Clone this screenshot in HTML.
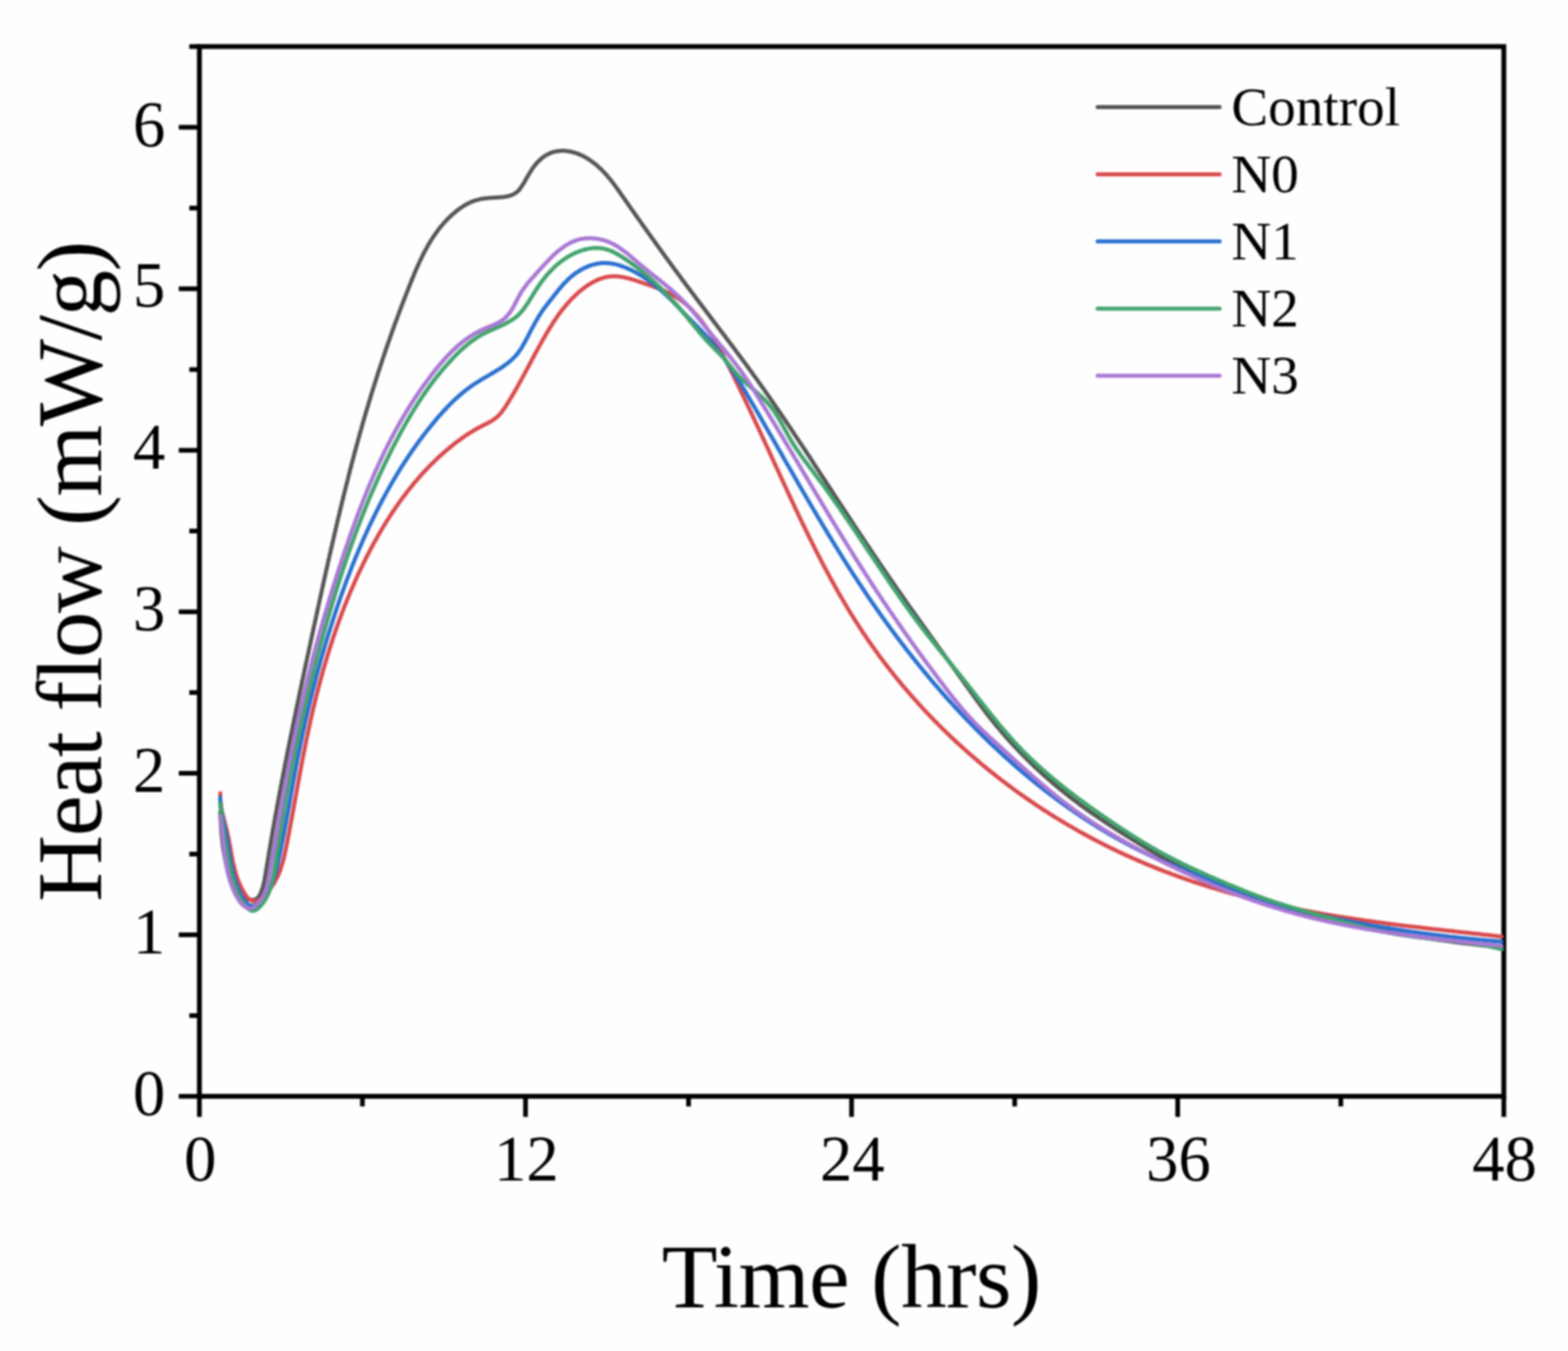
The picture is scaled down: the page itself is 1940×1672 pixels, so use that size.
<!DOCTYPE html>
<html><head><meta charset="utf-8"><title>Heat flow vs time</title>
<style>
html,body{margin:0;padding:0;background:#fefefe;}
svg{display:block;filter:blur(1.0px);}
text{font-family:"Liberation Serif","Times New Roman",serif;fill:#000;}
</style></head>
<body>
<svg width="1940" height="1672" viewBox="0 0 1940 1672" xmlns="http://www.w3.org/2000/svg">
<g>
<rect x="246.7" y="57.6" width="1613.8999999999999" height="1299.2" fill="none" stroke="#000" stroke-width="6.0"/>
<line x1="221.2" y1="1356.8" x2="246.7" y2="1356.8" stroke="#000" stroke-width="5.8"/>
<line x1="234.2" y1="1256.9" x2="246.7" y2="1256.9" stroke="#000" stroke-width="5.8"/>
<line x1="221.2" y1="1156.9" x2="246.7" y2="1156.9" stroke="#000" stroke-width="5.8"/>
<line x1="234.2" y1="1057.0" x2="246.7" y2="1057.0" stroke="#000" stroke-width="5.8"/>
<line x1="221.2" y1="957.0" x2="246.7" y2="957.0" stroke="#000" stroke-width="5.8"/>
<line x1="234.2" y1="857.1" x2="246.7" y2="857.1" stroke="#000" stroke-width="5.8"/>
<line x1="221.2" y1="757.2" x2="246.7" y2="757.2" stroke="#000" stroke-width="5.8"/>
<line x1="234.2" y1="657.2" x2="246.7" y2="657.2" stroke="#000" stroke-width="5.8"/>
<line x1="221.2" y1="557.3" x2="246.7" y2="557.3" stroke="#000" stroke-width="5.8"/>
<line x1="234.2" y1="457.4" x2="246.7" y2="457.4" stroke="#000" stroke-width="5.8"/>
<line x1="221.2" y1="357.4" x2="246.7" y2="357.4" stroke="#000" stroke-width="5.8"/>
<line x1="234.2" y1="257.5" x2="246.7" y2="257.5" stroke="#000" stroke-width="5.8"/>
<line x1="221.2" y1="157.5" x2="246.7" y2="157.5" stroke="#000" stroke-width="5.8"/>
<line x1="234.2" y1="57.6" x2="246.7" y2="57.6" stroke="#000" stroke-width="5.8"/>
<line x1="246.7" y1="1356.8" x2="246.7" y2="1382.3" stroke="#000" stroke-width="5.8"/>
<line x1="448.4" y1="1356.8" x2="448.4" y2="1369.3" stroke="#000" stroke-width="5.8"/>
<line x1="650.2" y1="1356.8" x2="650.2" y2="1382.3" stroke="#000" stroke-width="5.8"/>
<line x1="851.9" y1="1356.8" x2="851.9" y2="1369.3" stroke="#000" stroke-width="5.8"/>
<line x1="1053.6" y1="1356.8" x2="1053.6" y2="1382.3" stroke="#000" stroke-width="5.8"/>
<line x1="1255.4" y1="1356.8" x2="1255.4" y2="1369.3" stroke="#000" stroke-width="5.8"/>
<line x1="1457.1" y1="1356.8" x2="1457.1" y2="1382.3" stroke="#000" stroke-width="5.8"/>
<line x1="1658.9" y1="1356.8" x2="1658.9" y2="1369.3" stroke="#000" stroke-width="5.8"/>
<line x1="1860.6" y1="1356.8" x2="1860.6" y2="1382.3" stroke="#000" stroke-width="5.8"/>
<text x="204.5" y="1379.8" text-anchor="end" font-size="80">0</text>
<text x="204.5" y="1179.9" text-anchor="end" font-size="80">1</text>
<text x="204.5" y="980.0" text-anchor="end" font-size="80">2</text>
<text x="204.5" y="780.2" text-anchor="end" font-size="80">3</text>
<text x="204.5" y="580.3" text-anchor="end" font-size="80">4</text>
<text x="204.5" y="380.4" text-anchor="end" font-size="80">5</text>
<text x="204.5" y="180.5" text-anchor="end" font-size="80">6</text>
<text x="247.7" y="1461" text-anchor="middle" font-size="80">0</text>
<text x="651.2" y="1461" text-anchor="middle" font-size="80">12</text>
<text x="1054.6" y="1461" text-anchor="middle" font-size="80">24</text>
<text x="1458.1" y="1461" text-anchor="middle" font-size="80">36</text>
<text x="1861.6" y="1461" text-anchor="middle" font-size="80">48</text>
<text x="818.8" y="1617.8" font-size="113" textLength="469.5" lengthAdjust="spacing">Time (hrs)</text>
<text transform="translate(125.4 1115.9) rotate(-90)" font-size="114.5" textLength="818" lengthAdjust="spacing">Heat flow (mW/g)</text>
<path d="M272.5 1004.9L272.6 1007.0L272.7 1009.1L272.8 1011.2L272.9 1013.3L273.0 1015.4L273.2 1017.4L273.3 1019.4L273.4 1021.5L273.5 1023.5L273.7 1025.4L273.8 1027.4L274.0 1029.4L274.1 1031.3L274.3 1033.3L274.5 1035.2L274.7 1037.2L274.9 1039.1L275.1 1041.0L275.3 1042.9L275.5 1044.8L275.8 1046.8L276.0 1048.7L276.3 1050.6L276.6 1052.5L276.9 1054.4L277.2 1056.3L277.6 1058.3L277.9 1060.2L278.3 1062.1L278.7 1064.1L279.1 1066.0L279.5 1068.0L280.0 1070.0L280.5 1071.9L281.0 1073.9L281.5 1075.9L282.1 1078.0L282.6 1080.0L283.2 1082.0L283.9 1084.1L284.5 1086.1L285.3 1088.1L286.0 1090.1L286.8 1092.1L287.7 1094.0L288.6 1095.9L289.5 1097.7L290.5 1099.5L291.6 1101.2L292.8 1102.8L294.0 1104.4L295.3 1105.9L296.7 1107.2L298.1 1108.5L299.6 1109.6L301.3 1110.7L303.0 1111.6L304.8 1112.4L306.7 1113.0L308.7 1113.4L310.7 1113.7L312.6 1113.7L314.5 1113.4L316.3 1112.9L318.0 1111.9L319.4 1110.6L320.7 1109.0L321.7 1107.1L322.7 1105.0L323.5 1102.9L324.2 1100.9L324.9 1098.9L325.5 1096.9L326.0 1094.9L326.4 1092.9L326.9 1091.0L327.2 1089.0L327.6 1087.1L327.9 1085.1L328.3 1083.2L328.6 1081.2L328.9 1079.3L329.2 1077.3L329.6 1075.4L329.9 1073.4L330.2 1071.5L330.5 1069.5L330.9 1067.5L331.2 1065.6L331.5 1063.6L331.8 1061.6L332.2 1059.7L332.5 1057.7L332.8 1055.7L333.1 1053.7L333.5 1051.8L333.8 1049.8L334.1 1047.8L334.5 1045.8L334.8 1043.9L335.2 1041.9L335.5 1039.9L335.8 1037.9L336.2 1036.0L336.5 1034.0L336.9 1032.0L337.2 1030.0L337.5 1028.1L337.9 1026.1L338.2 1024.1L338.6 1022.2L338.9 1020.2L339.3 1018.2L339.6 1016.2L340.0 1014.3L340.3 1012.3L340.7 1010.3L341.0 1008.4L341.4 1006.4L341.8 1004.4L342.1 1002.5L342.5 1000.5L342.8 998.5L343.2 996.5L343.6 994.6L343.9 992.6L344.3 990.6L344.7 988.7L345.0 986.7L345.4 984.7L345.8 982.8L346.1 980.8L346.5 978.8L346.9 976.9L347.2 974.9L347.6 972.9L348.0 971.0L348.4 969.0L348.7 967.0L349.1 965.1L349.5 963.1L349.9 961.2L350.2 959.2L350.6 957.2L351.0 955.3L351.4 953.3L351.8 951.3L352.2 949.4L352.5 947.4L352.9 945.4L353.3 943.5L353.7 941.5L354.1 939.6L354.5 937.6L354.9 935.6L355.2 933.7L355.6 931.7L356.0 929.7L356.4 927.8L356.8 925.8L357.2 923.9L357.6 921.9L358.0 919.9L358.4 918.0L358.8 916.0L359.2 914.1L359.6 912.1L360.0 910.1L360.4 908.2L360.8 906.2L361.2 904.3L361.6 902.3L362.0 900.3L362.4 898.4L362.8 896.4L363.2 894.5L363.6 892.5L364.0 890.5L364.4 888.6L364.8 886.6L365.2 884.7L365.6 882.7L366.0 880.8L366.4 878.8L366.8 876.8L367.2 874.9L367.6 872.9L368.1 871.0L368.5 869.0L368.9 867.0L369.3 865.1L369.7 863.1L370.1 861.2L370.5 859.2L370.9 857.3L371.3 855.3L371.8 853.3L372.2 851.4L372.6 849.4L373.0 847.5L373.4 845.5L373.8 843.6L374.2 841.6L374.7 839.6L375.1 837.7L375.5 835.7L375.9 833.8L376.3 831.8L376.7 829.9L377.2 827.9L377.6 826.0L378.0 824.0L378.4 822.0L378.8 820.1L379.3 818.1L379.7 816.2L380.1 814.2L380.5 812.3L380.9 810.3L381.4 808.3L381.8 806.4L382.2 804.4L382.6 802.5L383.0 800.5L383.5 798.6L383.9 796.6L384.3 794.6L384.7 792.7L385.2 790.7L385.6 788.8L386.0 786.8L386.4 784.9L386.8 782.9L387.3 781.0L387.7 779.0L388.1 777.0L388.5 775.1L389.0 773.1L389.4 771.2L389.8 769.2L390.2 767.3L390.7 765.3L391.1 763.3L391.5 761.4L391.9 759.4L392.4 757.5L392.8 755.5L393.2 753.6L393.6 751.6L394.1 749.6L394.5 747.7L394.9 745.7L395.3 743.8L395.8 741.8L396.2 739.9L396.6 737.9L397.0 735.9L397.5 734.0L397.9 732.0L398.3 730.1L398.8 728.1L399.2 726.2L399.6 724.2L400.0 722.2L400.5 720.3L400.9 718.3L401.3 716.4L401.8 714.4L402.2 712.5L402.6 710.5L403.1 708.6L403.5 706.6L403.9 704.6L404.4 702.7L404.8 700.7L405.3 698.8L405.7 696.8L406.1 694.9L406.6 692.9L407.0 691.0L407.5 689.0L407.9 687.1L408.3 685.1L408.8 683.1L409.2 681.2L409.7 679.2L410.1 677.3L410.6 675.3L411.0 673.4L411.5 671.4L411.9 669.5L412.4 667.5L412.8 665.6L413.3 663.6L413.7 661.7L414.2 659.7L414.6 657.8L415.1 655.8L415.5 653.9L416.0 651.9L416.4 650.0L416.9 648.0L417.3 646.1L417.8 644.1L418.3 642.2L418.7 640.2L419.2 638.3L419.7 636.3L420.1 634.4L420.6 632.4L421.1 630.5L421.5 628.5L422.0 626.6L422.5 624.7L422.9 622.7L423.4 620.8L423.9 618.8L424.4 616.9L424.8 614.9L425.3 613.0L425.8 611.0L426.3 609.1L426.8 607.2L427.2 605.2L427.7 603.3L428.2 601.3L428.7 599.4L429.2 597.5L429.7 595.5L430.2 593.6L430.7 591.6L431.1 589.7L431.6 587.8L432.1 585.8L432.6 583.9L433.1 581.9L433.6 580.0L434.1 578.1L434.6 576.1L435.1 574.2L435.6 572.3L436.2 570.3L436.7 568.4L437.2 566.5L437.7 564.5L438.2 562.6L438.7 560.7L439.2 558.7L439.8 556.8L440.3 554.9L440.8 552.9L441.3 551.0L441.8 549.1L442.4 547.1L442.9 545.2L443.4 543.3L444.0 541.4L444.5 539.4L445.0 537.5L445.6 535.6L446.1 533.7L446.7 531.7L447.2 529.8L447.7 527.9L448.3 526.0L448.8 524.0L449.4 522.1L449.9 520.2L450.5 518.3L451.0 516.4L451.6 514.4L452.2 512.5L452.7 510.6L453.3 508.7L453.9 506.8L454.4 504.9L455.0 502.9L455.6 501.0L456.1 499.1L456.7 497.2L457.3 495.3L457.9 493.4L458.4 491.5L459.0 489.5L459.6 487.6L460.2 485.7L460.8 483.8L461.4 481.9L462.0 480.0L462.6 478.1L463.2 476.2L463.8 474.3L464.4 472.4L465.0 470.5L465.6 468.6L466.2 466.7L466.8 464.8L467.4 462.9L468.0 461.0L468.6 459.1L469.3 457.2L469.9 455.3L470.5 453.4L471.1 451.5L471.8 449.6L472.4 447.7L473.0 445.8L473.6 443.9L474.3 442.0L474.9 440.1L475.6 438.2L476.2 436.3L476.8 434.4L477.5 432.5L478.1 430.6L478.8 428.7L479.4 426.8L480.1 424.9L480.8 423.0L481.4 421.2L482.1 419.3L482.7 417.4L483.4 415.5L484.1 413.6L484.7 411.7L485.4 409.8L486.1 407.9L486.8 406.1L487.5 404.2L488.1 402.3L488.8 400.4L489.5 398.5L490.2 396.6L490.9 394.8L491.6 392.9L492.3 391.0L493.0 389.1L493.7 387.2L494.4 385.4L495.1 383.5L495.8 381.6L496.5 379.7L497.2 377.9L497.9 376.0L498.6 374.1L499.4 372.2L500.1 370.4L500.8 368.5L501.5 366.6L502.3 364.7L503.0 362.9L503.7 361.0L504.5 359.1L505.2 357.3L505.9 355.4L506.7 353.5L507.4 351.7L508.2 349.8L508.9 347.9L509.7 346.1L510.4 344.2L511.2 342.3L512.0 340.5L512.7 338.6L513.5 336.8L514.3 334.9L515.1 333.1L515.9 331.2L516.7 329.4L517.5 327.6L518.4 325.8L519.2 323.9L520.0 322.1L520.9 320.3L521.8 318.5L522.6 316.7L523.5 315.0L524.4 313.2L525.4 311.4L526.3 309.7L527.2 307.9L528.2 306.2L529.2 304.4L530.2 302.7L531.2 301.0L532.2 299.3L533.2 297.6L534.3 296.0L535.3 294.3L536.4 292.6L537.6 291.0L538.7 289.4L539.8 287.8L541.0 286.2L542.2 284.6L543.4 283.0L544.6 281.5L545.9 279.9L547.2 278.4L548.5 276.9L549.8 275.4L551.1 273.9L552.5 272.5L553.9 271.0L555.3 269.6L556.8 268.2L558.2 266.8L559.7 265.4L561.3 264.1L562.8 262.8L564.4 261.5L566.0 260.2L567.6 259.0L569.3 257.8L570.9 256.7L572.6 255.6L574.3 254.5L576.1 253.5L577.8 252.5L579.6 251.6L581.4 250.7L583.3 249.9L585.1 249.1L587.0 248.4L588.9 247.8L590.8 247.3L592.7 246.8L594.6 246.3L596.6 246.0L598.6 245.7L600.5 245.4L602.5 245.2L604.5 245.1L606.6 244.9L608.6 244.8L610.6 244.7L612.6 244.6L614.6 244.5L616.6 244.3L618.7 244.2L620.7 244.0L622.6 243.8L624.6 243.5L626.6 243.2L628.5 242.8L630.4 242.3L632.3 241.7L634.1 241.0L635.8 240.2L637.5 239.2L639.0 238.1L640.5 236.8L641.9 235.4L643.2 233.8L644.4 232.1L645.6 230.4L646.7 228.7L647.8 227.0L648.8 225.2L649.8 223.5L650.8 221.8L651.8 220.0L652.8 218.3L653.8 216.6L654.8 214.9L655.9 213.2L656.9 211.5L658.0 209.8L659.1 208.2L660.3 206.5L661.6 204.9L662.8 203.3L664.2 201.8L665.6 200.3L667.0 198.9L668.5 197.5L670.0 196.2L671.5 194.9L673.1 193.7L674.8 192.6L676.5 191.6L678.2 190.7L680.0 189.8L681.8 189.1L683.7 188.4L685.6 187.9L687.5 187.5L689.4 187.1L691.4 186.9L693.4 186.7L695.4 186.6L697.4 186.6L699.4 186.7L701.4 186.9L703.4 187.2L705.4 187.5L707.3 188.0L709.3 188.5L711.2 189.0L713.2 189.7L715.1 190.4L717.0 191.1L718.8 192.0L720.7 192.8L722.5 193.8L724.3 194.7L726.0 195.7L727.7 196.8L729.4 197.9L731.1 199.0L732.7 200.2L734.3 201.4L735.9 202.6L737.4 203.8L738.9 205.1L740.4 206.4L741.8 207.8L743.3 209.1L744.7 210.5L746.1 211.9L747.4 213.3L748.8 214.8L750.1 216.3L751.4 217.7L752.7 219.3L754.0 220.8L755.2 222.3L756.5 223.9L757.7 225.5L758.9 227.0L760.1 228.6L761.3 230.2L762.5 231.9L763.7 233.5L764.8 235.1L766.0 236.7L767.1 238.4L768.3 240.0L769.4 241.7L770.6 243.3L771.7 245.0L772.9 246.6L774.0 248.3L775.2 249.9L776.3 251.6L777.5 253.2L778.6 254.9L779.8 256.5L780.9 258.2L782.1 259.8L783.2 261.5L784.4 263.1L785.5 264.8L786.7 266.4L787.8 268.0L789.0 269.7L790.2 271.3L791.3 272.9L792.5 274.6L793.6 276.2L794.8 277.9L795.9 279.5L797.1 281.1L798.3 282.8L799.4 284.4L800.6 286.0L801.7 287.7L802.9 289.3L804.1 290.9L805.2 292.5L806.4 294.2L807.6 295.8L808.7 297.4L809.9 299.0L811.1 300.7L812.2 302.3L813.4 303.9L814.6 305.5L815.7 307.2L816.9 308.8L818.1 310.4L819.2 312.0L820.4 313.6L821.6 315.3L822.8 316.9L823.9 318.5L825.1 320.1L826.3 321.7L827.5 323.3L828.6 324.9L829.8 326.6L831.0 328.2L832.2 329.8L833.4 331.4L834.5 333.0L835.7 334.6L836.9 336.2L838.1 337.8L839.3 339.4L840.5 341.0L841.7 342.6L842.8 344.3L844.0 345.9L845.2 347.5L846.4 349.1L847.6 350.7L848.8 352.3L850.0 353.9L851.2 355.5L852.4 357.1L853.6 358.7L854.8 360.3L856.0 361.9L857.2 363.5L858.4 365.1L859.6 366.7L860.8 368.3L862.0 369.9L863.2 371.5L864.4 373.1L865.6 374.7L866.8 376.3L868.0 377.9L869.2 379.4L870.4 381.0L871.6 382.6L872.8 384.2L874.0 385.8L875.2 387.4L876.4 389.0L877.6 390.6L878.8 392.2L880.0 393.8L881.2 395.4L882.4 397.0L883.6 398.6L884.9 400.2L886.1 401.8L887.3 403.4L888.5 405.0L889.7 406.6L890.9 408.2L892.1 409.8L893.3 411.4L894.5 412.9L895.7 414.5L896.9 416.1L898.1 417.7L899.3 419.3L900.5 420.9L901.7 422.5L902.9 424.1L904.1 425.7L905.3 427.3L906.5 428.9L907.7 430.5L908.9 432.1L910.1 433.7L911.3 435.4L912.5 437.0L913.7 438.6L914.9 440.2L916.1 441.8L917.3 443.4L918.5 445.0L919.6 446.6L920.8 448.2L922.0 449.8L923.2 451.4L924.4 453.0L925.6 454.7L926.7 456.3L927.9 457.9L929.1 459.5L930.3 461.1L931.4 462.8L932.6 464.4L933.8 466.0L935.0 467.6L936.1 469.2L937.3 470.9L938.4 472.5L939.6 474.1L940.8 475.8L941.9 477.4L943.1 479.0L944.2 480.7L945.4 482.3L946.5 483.9L947.7 485.6L948.8 487.2L950.0 488.8L951.1 490.5L952.3 492.1L953.4 493.8L954.5 495.4L955.7 497.1L956.8 498.7L958.0 500.4L959.1 502.0L960.2 503.7L961.3 505.3L962.5 507.0L963.6 508.6L964.7 510.3L965.9 511.9L967.0 513.6L968.1 515.2L969.2 516.9L970.3 518.5L971.5 520.2L972.6 521.9L973.7 523.5L974.8 525.2L975.9 526.8L977.1 528.5L978.2 530.2L979.3 531.8L980.4 533.5L981.5 535.2L982.6 536.8L983.7 538.5L984.8 540.2L985.9 541.8L987.0 543.5L988.1 545.2L989.2 546.8L990.4 548.5L991.5 550.2L992.6 551.8L993.7 553.5L994.8 555.2L995.9 556.9L997.0 558.5L998.1 560.2L999.2 561.9L1000.3 563.5L1001.4 565.2L1002.5 566.9L1003.6 568.6L1004.7 570.2L1005.8 571.9L1006.8 573.6L1007.9 575.3L1009.0 576.9L1010.1 578.6L1011.2 580.3L1012.3 582.0L1013.4 583.6L1014.5 585.3L1015.6 587.0L1016.7 588.7L1017.8 590.3L1018.9 592.0L1020.0 593.7L1021.1 595.4L1022.2 597.1L1023.3 598.7L1024.4 600.4L1025.5 602.1L1026.6 603.8L1027.7 605.4L1028.8 607.1L1029.9 608.8L1030.9 610.5L1032.0 612.1L1033.1 613.8L1034.2 615.5L1035.3 617.2L1036.4 618.8L1037.5 620.5L1038.6 622.2L1039.7 623.9L1040.8 625.5L1041.9 627.2L1043.0 628.9L1044.1 630.6L1045.2 632.2L1046.3 633.9L1047.4 635.6L1048.5 637.2L1049.6 638.9L1050.7 640.6L1051.8 642.3L1052.9 643.9L1054.0 645.6L1055.1 647.3L1056.2 649.0L1057.3 650.6L1058.4 652.3L1059.5 654.0L1060.6 655.6L1061.7 657.3L1062.8 659.0L1063.9 660.6L1065.0 662.3L1066.2 664.0L1067.3 665.6L1068.4 667.3L1069.5 669.0L1070.6 670.6L1071.7 672.3L1072.8 674.0L1073.9 675.6L1075.0 677.3L1076.1 679.0L1077.3 680.6L1078.4 682.3L1079.5 684.0L1080.6 685.6L1081.7 687.3L1082.8 688.9L1083.9 690.6L1085.1 692.3L1086.2 693.9L1087.3 695.6L1088.4 697.2L1089.5 698.9L1090.7 700.5L1091.8 702.2L1092.9 703.9L1094.0 705.5L1095.2 707.2L1096.3 708.8L1097.4 710.5L1098.6 712.1L1099.7 713.8L1100.8 715.4L1101.9 717.1L1103.1 718.7L1104.2 720.4L1105.3 722.0L1106.5 723.7L1107.6 725.3L1108.8 727.0L1109.9 728.6L1111.0 730.3L1112.2 731.9L1113.3 733.5L1114.5 735.2L1115.6 736.8L1116.8 738.5L1117.9 740.1L1119.0 741.7L1120.2 743.4L1121.3 745.0L1122.5 746.7L1123.6 748.3L1124.8 749.9L1126.0 751.6L1127.1 753.2L1128.3 754.8L1129.4 756.5L1130.6 758.1L1131.7 759.7L1132.9 761.4L1134.1 763.0L1135.2 764.6L1136.4 766.3L1137.5 767.9L1138.7 769.5L1139.9 771.1L1141.0 772.8L1142.2 774.4L1143.4 776.0L1144.5 777.6L1145.7 779.3L1146.9 780.9L1148.0 782.5L1149.2 784.2L1150.4 785.8L1151.5 787.4L1152.7 789.0L1153.9 790.7L1155.0 792.3L1156.2 793.9L1157.4 795.5L1158.5 797.1L1159.7 798.8L1160.9 800.4L1162.0 802.0L1163.2 803.6L1164.4 805.3L1165.6 806.9L1166.7 808.5L1167.9 810.1L1169.1 811.8L1170.2 813.4L1171.4 815.0L1172.6 816.6L1173.8 818.2L1174.9 819.9L1176.1 821.5L1177.3 823.1L1178.4 824.7L1179.6 826.4L1180.8 828.0L1181.9 829.6L1183.1 831.2L1184.3 832.9L1185.4 834.5L1186.6 836.1L1187.8 837.7L1189.0 839.4L1190.1 841.0L1191.3 842.6L1192.5 844.2L1193.6 845.9L1194.8 847.5L1196.0 849.1L1197.1 850.7L1198.3 852.4L1199.5 854.0L1200.6 855.6L1201.8 857.2L1203.0 858.9L1204.1 860.5L1205.3 862.1L1206.5 863.7L1207.7 865.3L1208.8 867.0L1210.0 868.6L1211.2 870.2L1212.4 871.8L1213.6 873.4L1214.8 875.0L1216.0 876.6L1217.2 878.2L1218.4 879.8L1219.6 881.4L1220.8 883.0L1222.0 884.6L1223.3 886.1L1224.5 887.7L1225.7 889.3L1227.0 890.9L1228.2 892.4L1229.5 894.0L1230.7 895.5L1232.0 897.1L1233.2 898.6L1234.5 900.2L1235.8 901.7L1237.1 903.2L1238.4 904.8L1239.7 906.3L1241.0 907.8L1242.3 909.3L1243.6 910.8L1244.9 912.3L1246.2 913.8L1247.6 915.3L1248.9 916.8L1250.2 918.3L1251.6 919.8L1252.9 921.3L1254.3 922.7L1255.7 924.2L1257.0 925.7L1258.4 927.1L1259.8 928.6L1261.2 930.0L1262.6 931.5L1263.9 932.9L1265.3 934.3L1266.8 935.8L1268.2 937.2L1269.6 938.6L1271.0 940.0L1272.4 941.4L1273.9 942.8L1275.3 944.2L1276.7 945.6L1278.2 947.0L1279.6 948.4L1281.1 949.8L1282.5 951.1L1284.0 952.5L1285.5 953.9L1287.0 955.2L1288.4 956.6L1289.9 957.9L1291.4 959.3L1292.9 960.6L1294.4 961.9L1295.9 963.2L1297.4 964.6L1298.9 965.9L1300.4 967.2L1301.9 968.5L1303.5 969.8L1305.0 971.1L1306.5 972.4L1308.1 973.7L1309.6 974.9L1311.2 976.2L1312.7 977.5L1314.3 978.8L1315.8 980.0L1317.4 981.3L1318.9 982.5L1320.5 983.8L1322.1 985.0L1323.7 986.2L1325.2 987.5L1326.8 988.7L1328.4 989.9L1330.0 991.1L1331.6 992.3L1333.2 993.5L1334.8 994.7L1336.4 995.9L1338.0 997.1L1339.6 998.2L1341.3 999.4L1342.9 1000.6L1344.5 1001.8L1346.1 1002.9L1347.8 1004.1L1349.4 1005.2L1351.0 1006.4L1352.7 1007.5L1354.3 1008.6L1356.0 1009.8L1357.6 1010.9L1359.3 1012.0L1360.9 1013.1L1362.6 1014.2L1364.3 1015.4L1365.9 1016.5L1367.6 1017.6L1369.2 1018.7L1370.9 1019.8L1372.6 1020.9L1374.3 1021.9L1375.9 1023.0L1377.6 1024.1L1379.3 1025.2L1381.0 1026.3L1382.7 1027.4L1384.4 1028.4L1386.0 1029.5L1387.7 1030.6L1389.4 1031.6L1391.1 1032.7L1392.8 1033.8L1394.5 1034.8L1396.2 1035.9L1397.9 1036.9L1399.6 1038.0L1401.3 1039.1L1403.0 1040.1L1404.7 1041.2L1406.4 1042.2L1408.1 1043.3L1409.8 1044.3L1411.5 1045.4L1413.2 1046.4L1414.9 1047.4L1416.6 1048.5L1418.3 1049.5L1420.1 1050.5L1421.8 1051.6L1423.5 1052.6L1425.2 1053.6L1426.9 1054.6L1428.7 1055.7L1430.4 1056.7L1432.1 1057.7L1433.8 1058.7L1435.6 1059.7L1437.3 1060.6L1439.1 1061.6L1440.8 1062.6L1442.6 1063.6L1444.3 1064.5L1446.1 1065.5L1447.8 1066.4L1449.6 1067.4L1451.3 1068.3L1453.1 1069.3L1454.9 1070.2L1456.7 1071.1L1458.4 1072.0L1460.2 1072.9L1462.0 1073.8L1463.8 1074.7L1465.6 1075.6L1467.4 1076.5L1469.2 1077.4L1471.0 1078.3L1472.8 1079.1L1474.6 1080.0L1476.4 1080.8L1478.2 1081.7L1480.0 1082.5L1481.8 1083.4L1483.6 1084.2L1485.5 1085.0L1487.3 1085.9L1489.1 1086.7L1490.9 1087.5L1492.8 1088.3L1494.6 1089.1L1496.5 1089.9L1498.3 1090.7L1500.1 1091.5L1502.0 1092.2L1503.8 1093.0L1505.7 1093.8L1507.5 1094.6L1509.4 1095.3L1511.2 1096.1L1513.1 1096.8L1514.9 1097.6L1516.8 1098.3L1518.7 1099.0L1520.5 1099.8L1522.4 1100.5L1524.3 1101.2L1526.1 1101.9L1528.0 1102.6L1529.9 1103.3L1531.8 1104.0L1533.6 1104.7L1535.5 1105.4L1537.4 1106.1L1539.3 1106.8L1541.2 1107.5L1543.1 1108.1L1544.9 1108.8L1546.8 1109.5L1548.7 1110.1L1550.6 1110.8L1552.5 1111.5L1554.4 1112.1L1556.3 1112.7L1558.2 1113.4L1560.1 1114.0L1562.0 1114.6L1563.9 1115.3L1565.8 1115.9L1567.7 1116.5L1569.6 1117.1L1571.5 1117.7L1573.4 1118.3L1575.3 1118.9L1577.2 1119.5L1579.2 1120.1L1581.1 1120.7L1583.0 1121.3L1584.9 1121.9L1586.8 1122.5L1588.7 1123.1L1590.6 1123.6L1592.6 1124.2L1594.5 1124.8L1596.4 1125.3L1598.3 1125.9L1600.2 1126.4L1602.2 1127.0L1604.1 1127.5L1606.0 1128.1L1608.0 1128.6L1609.9 1129.1L1611.8 1129.7L1613.7 1130.2L1615.7 1130.7L1617.6 1131.2L1619.5 1131.7L1621.5 1132.3L1623.4 1132.8L1625.3 1133.3L1627.3 1133.8L1629.2 1134.3L1631.1 1134.8L1633.1 1135.2L1635.0 1135.7L1637.0 1136.2L1638.9 1136.7L1640.9 1137.2L1642.8 1137.6L1644.7 1138.1L1646.7 1138.6L1648.6 1139.0L1650.6 1139.5L1652.5 1140.0L1654.5 1140.4L1656.4 1140.9L1658.4 1141.3L1660.3 1141.8L1662.3 1142.2L1664.2 1142.6L1666.2 1143.1L1668.1 1143.5L1670.1 1143.9L1672.1 1144.3L1674.0 1144.8L1676.0 1145.2L1677.9 1145.6L1679.9 1146.0L1681.8 1146.4L1683.8 1146.8L1685.8 1147.2L1687.7 1147.6L1689.7 1148.0L1691.6 1148.4L1693.6 1148.8L1695.6 1149.2L1697.5 1149.6L1699.5 1150.0L1701.5 1150.3L1703.4 1150.7L1705.4 1151.1L1707.4 1151.4L1709.3 1151.8L1711.3 1152.2L1713.3 1152.5L1715.2 1152.9L1717.2 1153.3L1719.2 1153.6L1721.2 1154.0L1723.1 1154.3L1725.1 1154.7L1727.1 1155.0L1729.0 1155.3L1731.0 1155.7L1733.0 1156.0L1735.0 1156.3L1736.9 1156.7L1738.9 1157.0L1740.9 1157.3L1742.9 1157.6L1744.9 1158.0L1746.8 1158.3L1748.8 1158.6L1750.8 1158.9L1752.8 1159.2L1754.7 1159.5L1756.7 1159.8L1758.7 1160.1L1760.7 1160.4L1762.7 1160.7L1764.6 1161.0L1766.6 1161.3L1768.6 1161.6L1770.6 1161.9L1772.6 1162.2L1774.6 1162.4L1776.5 1162.7L1778.5 1163.0L1780.5 1163.3L1782.5 1163.5L1784.5 1163.8L1786.5 1164.1L1788.4 1164.4L1790.4 1164.6L1792.4 1164.9L1794.4 1165.1L1796.4 1165.4L1798.4 1165.7L1800.4 1165.9L1802.3 1166.2L1804.3 1166.4L1806.3 1166.7L1808.3 1166.9L1810.3 1167.2L1812.3 1167.4L1814.3 1167.6L1816.2 1167.9L1818.2 1168.1L1820.2 1168.3L1822.2 1168.6L1824.2 1168.8L1826.2 1169.0L1828.2 1169.3L1830.2 1169.5L1832.1 1169.7L1834.1 1169.9L1836.1 1170.2L1838.1 1170.4L1840.1 1170.6L1842.1 1170.8L1844.1 1171.0L1846.1 1171.2L1848.1 1171.4L1850.0 1171.6L1852.0 1171.9L1854.0 1172.1L1856.0 1172.3L1858.0 1172.5" fill="none" stroke="#555555" stroke-width="5.0" stroke-linecap="round" stroke-linejoin="round"/>
<path d="M272.6 981.5L272.5 983.5L272.5 985.5L272.5 987.5L272.6 989.5L272.8 991.5L272.9 993.5L273.2 995.4L273.5 997.4L273.8 999.4L274.1 1001.4L274.5 1003.4L274.9 1005.3L275.4 1007.3L275.9 1009.3L276.3 1011.2L276.8 1013.2L277.3 1015.2L277.9 1017.1L278.4 1019.1L278.9 1021.1L279.4 1023.0L279.9 1025.0L280.4 1026.9L280.9 1028.9L281.3 1030.9L281.8 1032.8L282.2 1034.8L282.6 1036.7L283.0 1038.7L283.4 1040.6L283.7 1042.6L284.1 1044.6L284.5 1046.5L284.8 1048.5L285.2 1050.4L285.5 1052.3L285.8 1054.3L286.2 1056.2L286.5 1058.2L286.9 1060.1L287.3 1062.0L287.7 1064.0L288.0 1065.9L288.4 1067.8L288.9 1069.7L289.3 1071.7L289.8 1073.6L290.2 1075.5L290.8 1077.4L291.3 1079.3L291.8 1081.2L292.4 1083.1L293.0 1085.0L293.7 1086.9L294.4 1088.8L295.1 1090.7L295.9 1092.5L296.7 1094.4L297.5 1096.3L298.4 1098.1L299.4 1100.0L300.3 1101.8L301.4 1103.7L302.5 1105.5L303.6 1107.3L304.8 1109.1L306.1 1110.7L307.5 1112.1L309.0 1113.4L310.6 1114.3L312.3 1115.0L314.1 1115.3L316.1 1115.3L318.0 1114.9L320.0 1114.1L321.8 1113.1L323.4 1111.8L325.0 1110.3L326.4 1108.7L327.9 1107.1L329.3 1105.6L330.7 1104.0L332.0 1102.5L333.3 1100.9L334.6 1099.4L335.8 1097.8L337.0 1096.2L338.1 1094.5L339.1 1092.9L340.1 1091.2L341.1 1089.4L342.0 1087.7L342.9 1086.0L343.7 1084.2L344.5 1082.4L345.3 1080.6L346.0 1078.7L346.7 1076.9L347.3 1075.0L347.9 1073.1L348.5 1071.2L349.1 1069.3L349.7 1067.4L350.2 1065.5L350.7 1063.6L351.2 1061.6L351.6 1059.7L352.1 1057.7L352.5 1055.7L353.0 1053.8L353.4 1051.8L353.8 1049.8L354.2 1047.8L354.6 1045.9L355.0 1043.9L355.4 1041.9L355.7 1039.9L356.1 1038.0L356.5 1036.0L356.9 1034.0L357.3 1032.0L357.7 1030.0L358.0 1028.1L358.4 1026.1L358.8 1024.1L359.2 1022.1L359.5 1020.2L359.9 1018.2L360.3 1016.2L360.6 1014.2L361.0 1012.3L361.4 1010.3L361.7 1008.3L362.1 1006.3L362.4 1004.4L362.8 1002.4L363.2 1000.4L363.5 998.5L363.9 996.5L364.2 994.5L364.6 992.5L365.0 990.6L365.3 988.6L365.7 986.6L366.0 984.7L366.4 982.7L366.8 980.7L367.1 978.8L367.5 976.8L367.8 974.8L368.2 972.9L368.5 970.9L368.9 968.9L369.3 967.0L369.6 965.0L370.0 963.0L370.3 961.1L370.7 959.1L371.1 957.1L371.4 955.2L371.8 953.2L372.2 951.2L372.5 949.3L372.9 947.3L373.3 945.3L373.6 943.4L374.0 941.4L374.4 939.5L374.8 937.5L375.1 935.5L375.5 933.6L375.9 931.6L376.3 929.7L376.7 927.7L377.1 925.7L377.5 923.8L377.9 921.8L378.2 919.9L378.6 917.9L379.0 915.9L379.4 914.0L379.9 912.0L380.3 910.1L380.7 908.1L381.1 906.2L381.5 904.2L381.9 902.2L382.3 900.3L382.8 898.3L383.2 896.4L383.6 894.4L384.1 892.5L384.5 890.5L384.9 888.6L385.4 886.6L385.8 884.7L386.3 882.7L386.7 880.8L387.2 878.8L387.6 876.9L388.1 874.9L388.6 873.0L389.0 871.0L389.5 869.1L390.0 867.1L390.5 865.2L390.9 863.2L391.4 861.3L391.9 859.4L392.4 857.4L392.9 855.5L393.4 853.5L393.9 851.6L394.4 849.7L394.9 847.7L395.4 845.8L396.0 843.8L396.5 841.9L397.0 840.0L397.5 838.0L398.1 836.1L398.6 834.2L399.1 832.2L399.7 830.3L400.2 828.4L400.8 826.5L401.3 824.5L401.9 822.6L402.5 820.7L403.0 818.8L403.6 816.9L404.2 814.9L404.7 813.0L405.3 811.1L405.9 809.2L406.5 807.3L407.1 805.4L407.7 803.4L408.3 801.5L408.9 799.6L409.5 797.7L410.1 795.8L410.8 793.9L411.4 792.0L412.0 790.1L412.6 788.2L413.3 786.3L413.9 784.4L414.6 782.5L415.2 780.6L415.9 778.7L416.5 776.8L417.2 774.9L417.9 773.1L418.5 771.2L419.2 769.3L419.9 767.4L420.6 765.5L421.3 763.7L422.0 761.8L422.7 759.9L423.4 758.0L424.1 756.2L424.8 754.3L425.5 752.4L426.3 750.6L427.0 748.7L427.7 746.8L428.5 745.0L429.2 743.1L430.0 741.3L430.7 739.4L431.5 737.6L432.3 735.7L433.0 733.9L433.8 732.0L434.6 730.2L435.4 728.3L436.2 726.5L437.0 724.7L437.8 722.8L438.6 721.0L439.4 719.2L440.2 717.3L441.0 715.5L441.8 713.7L442.7 711.9L443.5 710.0L444.4 708.2L445.2 706.4L446.1 704.6L446.9 702.8L447.8 701.0L448.7 699.2L449.6 697.4L450.4 695.6L451.3 693.8L452.2 692.0L453.1 690.2L454.0 688.4L454.9 686.6L455.9 684.8L456.8 683.1L457.7 681.3L458.7 679.5L459.6 677.7L460.5 676.0L461.5 674.2L462.5 672.4L463.4 670.7L464.4 668.9L465.4 667.2L466.4 665.4L467.4 663.7L468.3 661.9L469.4 660.2L470.4 658.4L471.4 656.7L472.4 655.0L473.4 653.3L474.5 651.5L475.5 649.8L476.6 648.1L477.6 646.4L478.7 644.7L479.7 643.0L480.8 641.3L481.9 639.6L483.0 638.0L484.1 636.3L485.2 634.6L486.3 632.9L487.4 631.3L488.6 629.6L489.7 628.0L490.8 626.3L492.0 624.7L493.1 623.0L494.3 621.4L495.5 619.8L496.6 618.2L497.8 616.6L499.0 615.0L500.2 613.4L501.4 611.8L502.6 610.2L503.8 608.6L505.1 607.0L506.3 605.4L507.6 603.9L508.8 602.3L510.1 600.8L511.3 599.2L512.6 597.7L513.9 596.2L515.2 594.7L516.5 593.1L517.8 591.6L519.1 590.1L520.4 588.6L521.8 587.2L523.1 585.7L524.4 584.2L525.8 582.8L527.2 581.3L528.5 579.9L529.9 578.4L531.3 577.0L532.7 575.6L534.1 574.2L535.5 572.8L537.0 571.4L538.4 570.0L539.8 568.6L541.3 567.2L542.7 565.9L544.2 564.5L545.7 563.2L547.2 561.8L548.7 560.5L550.2 559.2L551.7 557.9L553.2 556.6L554.7 555.3L556.3 554.0L557.8 552.8L559.4 551.5L561.0 550.3L562.5 549.0L564.1 547.8L565.7 546.6L567.3 545.4L568.9 544.2L570.6 543.0L572.2 541.8L573.8 540.7L575.5 539.5L577.2 538.4L578.9 537.3L580.6 536.2L582.3 535.1L584.0 534.1L585.7 533.0L587.5 532.0L589.2 531.0L591.0 530.0L592.8 529.0L594.6 528.1L596.4 527.2L598.2 526.3L600.0 525.3L601.8 524.4L603.6 523.5L605.4 522.5L607.1 521.6L608.8 520.5L610.5 519.5L612.1 518.3L613.7 517.1L615.2 515.9L616.6 514.5L618.0 513.1L619.3 511.6L620.5 510.1L621.8 508.5L622.9 506.9L624.1 505.2L625.2 503.6L626.3 501.9L627.4 500.2L628.5 498.4L629.5 496.7L630.6 495.0L631.6 493.3L632.7 491.5L633.7 489.8L634.7 488.1L635.7 486.4L636.7 484.6L637.7 482.9L638.7 481.1L639.7 479.4L640.7 477.6L641.7 475.9L642.6 474.1L643.6 472.4L644.6 470.6L645.5 468.9L646.5 467.1L647.4 465.4L648.4 463.6L649.3 461.9L650.3 460.1L651.2 458.3L652.1 456.6L653.1 454.8L654.0 453.1L654.9 451.3L655.9 449.5L656.8 447.8L657.8 446.0L658.7 444.2L659.6 442.5L660.6 440.7L661.5 439.0L662.5 437.2L663.4 435.5L664.3 433.7L665.3 431.9L666.3 430.2L667.2 428.4L668.2 426.7L669.2 424.9L670.1 423.2L671.1 421.4L672.1 419.7L673.1 418.0L674.1 416.2L675.1 414.5L676.1 412.8L677.1 411.0L678.2 409.3L679.2 407.6L680.2 405.9L681.3 404.2L682.4 402.5L683.5 400.8L684.5 399.1L685.6 397.4L686.8 395.7L687.9 394.1L689.0 392.4L690.2 390.8L691.3 389.1L692.5 387.5L693.7 385.9L694.9 384.3L696.2 382.7L697.4 381.2L698.7 379.6L700.0 378.1L701.3 376.6L702.6 375.1L703.9 373.6L705.3 372.1L706.6 370.6L708.0 369.2L709.5 367.8L710.9 366.4L712.3 365.0L713.8 363.6L715.3 362.3L716.9 360.9L718.4 359.6L720.0 358.4L721.6 357.1L723.2 355.9L724.8 354.7L726.5 353.6L728.2 352.4L729.9 351.4L731.6 350.3L733.4 349.4L735.1 348.4L736.9 347.5L738.7 346.7L740.5 345.9L742.3 345.2L744.2 344.6L746.0 344.0L747.9 343.4L749.8 343.0L751.6 342.6L753.6 342.3L755.5 342.1L757.4 342.0L759.3 341.9L761.3 341.9L763.2 342.0L765.2 342.2L767.2 342.4L769.1 342.7L771.1 343.1L773.1 343.5L775.1 343.9L777.1 344.4L779.0 344.9L781.0 345.5L783.0 346.1L785.0 346.7L787.0 347.3L789.0 348.0L790.9 348.7L792.9 349.3L794.9 350.0L796.9 350.7L798.8 351.3L800.8 352.0L802.7 352.7L804.6 353.3L806.6 354.0L808.5 354.7L810.4 355.4L812.3 356.1L814.1 356.8L816.0 357.6L817.9 358.3L819.7 359.1L821.5 359.9L823.3 360.7L825.1 361.5L826.9 362.4L828.7 363.2L830.4 364.1L832.1 365.1L833.8 366.0L835.5 367.0L837.2 368.1L838.8 369.1L840.4 370.2L842.0 371.3L843.6 372.5L845.2 373.7L846.7 374.9L848.2 376.2L849.7 377.5L851.2 378.8L852.6 380.2L854.1 381.6L855.5 383.0L856.9 384.4L858.2 385.9L859.6 387.3L860.9 388.8L862.3 390.4L863.6 391.9L864.8 393.4L866.1 395.0L867.4 396.6L868.6 398.2L869.8 399.8L871.0 401.4L872.2 403.1L873.4 404.7L874.5 406.4L875.7 408.0L876.8 409.7L877.9 411.4L879.0 413.0L880.1 414.7L881.2 416.4L882.3 418.1L883.3 419.8L884.4 421.6L885.4 423.3L886.4 425.0L887.4 426.7L888.4 428.5L889.4 430.2L890.4 432.0L891.3 433.7L892.3 435.5L893.3 437.2L894.2 439.0L895.2 440.8L896.1 442.6L897.0 444.3L897.9 446.1L898.8 447.9L899.8 449.7L900.7 451.5L901.6 453.3L902.5 455.1L903.4 456.8L904.2 458.6L905.1 460.4L906.0 462.2L906.9 464.0L907.8 465.8L908.6 467.6L909.5 469.4L910.4 471.2L911.3 473.0L912.1 474.8L913.0 476.6L913.9 478.4L914.7 480.2L915.6 482.0L916.5 483.8L917.3 485.6L918.2 487.4L919.1 489.2L919.9 491.0L920.8 492.8L921.7 494.6L922.5 496.4L923.4 498.2L924.2 500.0L925.1 501.8L925.9 503.6L926.8 505.4L927.6 507.2L928.5 509.0L929.4 510.8L930.2 512.7L931.1 514.5L931.9 516.3L932.7 518.1L933.6 519.9L934.4 521.7L935.3 523.5L936.1 525.3L937.0 527.1L937.8 528.9L938.7 530.7L939.5 532.5L940.3 534.3L941.2 536.2L942.0 538.0L942.9 539.8L943.7 541.6L944.5 543.4L945.4 545.2L946.2 547.0L947.1 548.9L947.9 550.7L948.7 552.5L949.6 554.3L950.4 556.1L951.2 557.9L952.1 559.8L952.9 561.6L953.7 563.4L954.6 565.2L955.4 567.0L956.3 568.9L957.1 570.7L957.9 572.5L958.8 574.3L959.6 576.2L960.4 578.0L961.3 579.8L962.1 581.6L962.9 583.4L963.8 585.3L964.6 587.1L965.4 588.9L966.3 590.7L967.1 592.6L968.0 594.4L968.8 596.2L969.6 598.0L970.5 599.8L971.3 601.7L972.2 603.5L973.0 605.3L973.8 607.1L974.7 609.0L975.5 610.8L976.4 612.6L977.2 614.4L978.1 616.2L978.9 618.1L979.8 619.9L980.6 621.7L981.5 623.5L982.3 625.3L983.2 627.1L984.0 629.0L984.9 630.8L985.7 632.6L986.6 634.4L987.5 636.2L988.3 638.0L989.2 639.9L990.0 641.7L990.9 643.5L991.8 645.3L992.6 647.1L993.5 648.9L994.4 650.7L995.3 652.5L996.1 654.3L997.0 656.1L997.9 657.9L998.8 659.7L999.7 661.5L1000.5 663.3L1001.4 665.1L1002.3 666.9L1003.2 668.7L1004.1 670.5L1005.0 672.3L1005.9 674.1L1006.8 675.9L1007.7 677.7L1008.6 679.5L1009.5 681.3L1010.4 683.1L1011.3 684.9L1012.2 686.7L1013.1 688.4L1014.1 690.2L1015.0 692.0L1015.9 693.8L1016.8 695.6L1017.7 697.3L1018.7 699.1L1019.6 700.9L1020.5 702.6L1021.5 704.4L1022.4 706.2L1023.4 708.0L1024.3 709.7L1025.3 711.5L1026.2 713.2L1027.2 715.0L1028.1 716.8L1029.1 718.5L1030.1 720.3L1031.0 722.0L1032.0 723.8L1033.0 725.5L1033.9 727.3L1034.9 729.0L1035.9 730.7L1036.9 732.5L1037.9 734.2L1038.9 736.0L1039.9 737.7L1040.9 739.4L1041.9 741.1L1042.9 742.9L1043.9 744.6L1044.9 746.3L1045.9 748.0L1047.0 749.8L1048.0 751.5L1049.0 753.2L1050.0 754.9L1051.1 756.6L1052.1 758.3L1053.2 760.0L1054.2 761.7L1055.3 763.4L1056.3 765.1L1057.4 766.8L1058.5 768.5L1059.5 770.2L1060.6 771.8L1061.7 773.5L1062.8 775.2L1063.9 776.9L1064.9 778.5L1066.0 780.2L1067.1 781.9L1068.2 783.5L1069.4 785.2L1070.5 786.9L1071.6 788.5L1072.7 790.2L1073.8 791.8L1075.0 793.5L1076.1 795.1L1077.2 796.7L1078.4 798.4L1079.5 800.0L1080.7 801.6L1081.9 803.3L1083.0 804.9L1084.2 806.5L1085.4 808.1L1086.5 809.8L1087.7 811.4L1088.9 813.0L1090.1 814.6L1091.3 816.2L1092.5 817.8L1093.7 819.4L1094.9 821.0L1096.1 822.6L1097.3 824.1L1098.6 825.7L1099.8 827.3L1101.0 828.9L1102.3 830.5L1103.5 832.0L1104.7 833.6L1106.0 835.2L1107.2 836.7L1108.5 838.3L1109.8 839.8L1111.0 841.4L1112.3 842.9L1113.6 844.5L1114.8 846.0L1116.1 847.6L1117.4 849.1L1118.7 850.6L1120.0 852.1L1121.3 853.7L1122.6 855.2L1123.9 856.7L1125.2 858.2L1126.5 859.7L1127.8 861.2L1129.2 862.7L1130.5 864.2L1131.8 865.7L1133.2 867.2L1134.5 868.7L1135.8 870.2L1137.2 871.7L1138.5 873.2L1139.9 874.6L1141.2 876.1L1142.6 877.6L1144.0 879.1L1145.3 880.5L1146.7 882.0L1148.1 883.4L1149.5 884.9L1150.9 886.3L1152.3 887.8L1153.6 889.2L1155.0 890.6L1156.4 892.1L1157.8 893.5L1159.3 894.9L1160.7 896.4L1162.1 897.8L1163.5 899.2L1164.9 900.6L1166.3 902.0L1167.8 903.4L1169.2 904.8L1170.6 906.2L1172.1 907.6L1173.5 909.0L1175.0 910.4L1176.4 911.8L1177.9 913.2L1179.3 914.5L1180.8 915.9L1182.3 917.3L1183.7 918.6L1185.2 920.0L1186.7 921.3L1188.2 922.7L1189.7 924.0L1191.1 925.4L1192.6 926.7L1194.1 928.1L1195.6 929.4L1197.1 930.7L1198.6 932.1L1200.1 933.4L1201.6 934.7L1203.1 936.0L1204.7 937.3L1206.2 938.6L1207.7 939.9L1209.2 941.2L1210.8 942.5L1212.3 943.8L1213.8 945.1L1215.4 946.4L1216.9 947.7L1218.5 949.0L1220.0 950.2L1221.6 951.5L1223.1 952.8L1224.7 954.0L1226.2 955.3L1227.8 956.5L1229.4 957.8L1230.9 959.0L1232.5 960.3L1234.1 961.5L1235.7 962.7L1237.2 964.0L1238.8 965.2L1240.4 966.4L1242.0 967.6L1243.6 968.8L1245.2 970.0L1246.8 971.2L1248.4 972.4L1250.0 973.6L1251.6 974.8L1253.2 976.0L1254.9 977.2L1256.5 978.4L1258.1 979.6L1259.7 980.7L1261.3 981.9L1263.0 983.1L1264.6 984.2L1266.2 985.4L1267.9 986.5L1269.5 987.7L1271.2 988.8L1272.8 989.9L1274.5 991.1L1276.1 992.2L1277.8 993.3L1279.4 994.5L1281.1 995.6L1282.8 996.7L1284.4 997.8L1286.1 998.9L1287.8 1000.0L1289.4 1001.1L1291.1 1002.2L1292.8 1003.3L1294.5 1004.4L1296.2 1005.4L1297.8 1006.5L1299.5 1007.6L1301.2 1008.7L1302.9 1009.7L1304.6 1010.8L1306.3 1011.8L1308.0 1012.9L1309.7 1013.9L1311.4 1015.0L1313.2 1016.0L1314.9 1017.0L1316.6 1018.1L1318.3 1019.1L1320.0 1020.1L1321.7 1021.1L1323.5 1022.1L1325.2 1023.1L1326.9 1024.1L1328.7 1025.1L1330.4 1026.1L1332.1 1027.1L1333.9 1028.1L1335.6 1029.1L1337.4 1030.1L1339.1 1031.0L1340.9 1032.0L1342.6 1033.0L1344.4 1033.9L1346.1 1034.9L1347.9 1035.8L1349.7 1036.8L1351.4 1037.7L1353.2 1038.6L1355.0 1039.6L1356.7 1040.5L1358.5 1041.4L1360.3 1042.4L1362.1 1043.3L1363.8 1044.2L1365.6 1045.1L1367.4 1046.0L1369.2 1046.9L1371.0 1047.8L1372.8 1048.7L1374.6 1049.5L1376.4 1050.4L1378.2 1051.3L1380.0 1052.2L1381.8 1053.0L1383.6 1053.9L1385.4 1054.7L1387.2 1055.6L1389.0 1056.4L1390.8 1057.3L1392.6 1058.1L1394.5 1058.9L1396.3 1059.8L1398.1 1060.6L1399.9 1061.4L1401.8 1062.2L1403.6 1063.0L1405.4 1063.8L1407.3 1064.6L1409.1 1065.4L1410.9 1066.2L1412.8 1067.0L1414.6 1067.8L1416.4 1068.6L1418.3 1069.4L1420.1 1070.1L1422.0 1070.9L1423.8 1071.6L1425.7 1072.4L1427.5 1073.1L1429.4 1073.9L1431.3 1074.6L1433.1 1075.4L1435.0 1076.1L1436.8 1076.8L1438.7 1077.6L1440.6 1078.3L1442.4 1079.0L1444.3 1079.7L1446.2 1080.4L1448.1 1081.1L1449.9 1081.8L1451.8 1082.5L1453.7 1083.2L1455.6 1083.9L1457.4 1084.6L1459.3 1085.2L1461.2 1085.9L1463.1 1086.6L1465.0 1087.2L1466.9 1087.9L1468.8 1088.6L1470.7 1089.2L1472.6 1089.9L1474.4 1090.5L1476.3 1091.1L1478.2 1091.8L1480.1 1092.4L1482.0 1093.0L1484.0 1093.7L1485.9 1094.3L1487.8 1094.9L1489.7 1095.5L1491.6 1096.1L1493.5 1096.7L1495.4 1097.3L1497.3 1097.9L1499.2 1098.5L1501.1 1099.1L1503.1 1099.7L1505.0 1100.2L1506.9 1100.8L1508.8 1101.4L1510.7 1101.9L1512.7 1102.5L1514.6 1103.1L1516.5 1103.6L1518.4 1104.2L1520.4 1104.7L1522.3 1105.3L1524.2 1105.8L1526.1 1106.3L1528.1 1106.9L1530.0 1107.4L1531.9 1107.9L1533.9 1108.5L1535.8 1109.0L1537.8 1109.5L1539.7 1110.0L1541.6 1110.5L1543.6 1111.0L1545.5 1111.5L1547.5 1112.0L1549.4 1112.5L1551.3 1113.0L1553.3 1113.5L1555.2 1113.9L1557.2 1114.4L1559.1 1114.9L1561.1 1115.4L1563.0 1115.8L1565.0 1116.3L1566.9 1116.7L1568.9 1117.2L1570.8 1117.7L1572.8 1118.1L1574.7 1118.6L1576.7 1119.0L1578.6 1119.4L1580.6 1119.9L1582.6 1120.3L1584.5 1120.7L1586.5 1121.2L1588.4 1121.6L1590.4 1122.0L1592.3 1122.4L1594.3 1122.8L1596.3 1123.2L1598.2 1123.6L1600.2 1124.0L1602.2 1124.4L1604.1 1124.8L1606.1 1125.2L1608.0 1125.6L1610.0 1126.0L1612.0 1126.4L1613.9 1126.8L1615.9 1127.1L1617.9 1127.5L1619.8 1127.9L1621.8 1128.2L1623.8 1128.6L1625.7 1129.0L1627.7 1129.3L1629.7 1129.7L1631.7 1130.0L1633.6 1130.4L1635.6 1130.7L1637.6 1131.1L1639.5 1131.4L1641.5 1131.8L1643.5 1132.1L1645.5 1132.4L1647.4 1132.8L1649.4 1133.1L1651.4 1133.4L1653.4 1133.7L1655.3 1134.1L1657.3 1134.4L1659.3 1134.7L1661.3 1135.0L1663.2 1135.3L1665.2 1135.6L1667.2 1135.9L1669.2 1136.2L1671.1 1136.5L1673.1 1136.8L1675.1 1137.1L1677.1 1137.4L1679.1 1137.7L1681.0 1138.0L1683.0 1138.3L1685.0 1138.6L1687.0 1138.9L1689.0 1139.2L1690.9 1139.4L1692.9 1139.7L1694.9 1140.0L1696.9 1140.3L1698.9 1140.5L1700.9 1140.8L1702.8 1141.1L1704.8 1141.4L1706.8 1141.6L1708.8 1141.9L1710.8 1142.2L1712.8 1142.4L1714.7 1142.7L1716.7 1142.9L1718.7 1143.2L1720.7 1143.4L1722.7 1143.7L1724.7 1144.0L1726.7 1144.2L1728.6 1144.5L1730.6 1144.7L1732.6 1144.9L1734.6 1145.2L1736.6 1145.4L1738.6 1145.7L1740.6 1145.9L1742.6 1146.2L1744.5 1146.4L1746.5 1146.6L1748.5 1146.9L1750.5 1147.1L1752.5 1147.4L1754.5 1147.6L1756.5 1147.8L1758.5 1148.0L1760.5 1148.3L1762.4 1148.5L1764.4 1148.7L1766.4 1149.0L1768.4 1149.2L1770.4 1149.4L1772.4 1149.7L1774.4 1149.9L1776.4 1150.1L1778.4 1150.3L1780.4 1150.6L1782.3 1150.8L1784.3 1151.0L1786.3 1151.2L1788.3 1151.4L1790.3 1151.7L1792.3 1151.9L1794.3 1152.1L1796.3 1152.3L1798.3 1152.5L1800.3 1152.8L1802.3 1153.0L1804.2 1153.2L1806.2 1153.4L1808.2 1153.6L1810.2 1153.9L1812.2 1154.1L1814.2 1154.3L1816.2 1154.5L1818.2 1154.7L1820.2 1154.9L1822.2 1155.2L1824.1 1155.4L1826.1 1155.6L1828.1 1155.8L1830.1 1156.0L1832.1 1156.2L1834.1 1156.5L1836.1 1156.7L1838.1 1156.9L1840.1 1157.1L1842.1 1157.3L1844.1 1157.6L1846.0 1157.8L1848.0 1158.0L1850.0 1158.2L1852.0 1158.4L1854.0 1158.7L1856.0 1158.9L1858.0 1159.1" fill="none" stroke="#d94a4c" stroke-width="5.0" stroke-linecap="round" stroke-linejoin="round"/>
<path d="M272.6 987.1L272.5 989.0L272.6 990.9L272.7 992.8L272.8 994.8L273.0 996.8L273.2 998.7L273.4 1000.7L273.7 1002.7L274.1 1004.7L274.4 1006.7L274.8 1008.7L275.2 1010.7L275.6 1012.8L276.0 1014.8L276.4 1016.8L276.9 1018.8L277.3 1020.8L277.7 1022.9L278.2 1024.9L278.6 1026.9L279.0 1028.9L279.4 1030.9L279.8 1032.9L280.2 1034.9L280.5 1036.8L280.8 1038.8L281.2 1040.7L281.5 1042.7L281.8 1044.6L282.1 1046.6L282.4 1048.5L282.7 1050.4L283.0 1052.4L283.3 1054.3L283.6 1056.2L283.9 1058.1L284.2 1060.0L284.5 1061.9L284.8 1063.8L285.1 1065.7L285.5 1067.6L285.8 1069.5L286.2 1071.4L286.6 1073.3L287.0 1075.2L287.4 1077.1L287.9 1079.0L288.3 1080.9L288.8 1082.8L289.4 1084.7L289.9 1086.6L290.5 1088.5L291.1 1090.4L291.8 1092.4L292.4 1094.3L293.2 1096.2L293.9 1098.1L294.7 1100.0L295.5 1102.0L296.4 1103.9L297.3 1105.9L298.3 1107.8L299.3 1109.8L300.4 1111.7L301.6 1113.5L302.8 1115.3L304.1 1116.8L305.4 1118.2L306.9 1119.3L308.5 1120.2L310.2 1120.7L312.0 1120.9L313.9 1120.8L315.7 1120.2L317.6 1119.4L319.3 1118.2L321.0 1116.8L322.6 1115.3L324.1 1113.8L325.5 1112.2L326.9 1110.5L328.1 1108.8L329.3 1107.1L330.5 1105.4L331.5 1103.6L332.5 1101.8L333.5 1100.1L334.4 1098.3L335.2 1096.5L336.0 1094.6L336.8 1092.8L337.5 1090.9L338.2 1089.1L338.8 1087.2L339.4 1085.3L340.0 1083.4L340.6 1081.5L341.1 1079.6L341.6 1077.7L342.1 1075.7L342.5 1073.8L343.0 1071.9L343.4 1069.9L343.9 1068.0L344.3 1066.0L344.7 1064.1L345.1 1062.1L345.6 1060.2L346.0 1058.3L346.4 1056.3L346.8 1054.4L347.2 1052.4L347.6 1050.4L348.0 1048.5L348.4 1046.5L348.8 1044.6L349.2 1042.6L349.6 1040.7L349.9 1038.7L350.3 1036.7L350.7 1034.8L351.1 1032.8L351.5 1030.8L351.8 1028.9L352.2 1026.9L352.6 1024.9L352.9 1023.0L353.3 1021.0L353.7 1019.0L354.0 1017.1L354.4 1015.1L354.7 1013.1L355.1 1011.1L355.4 1009.2L355.8 1007.2L356.2 1005.2L356.5 1003.2L356.9 1001.3L357.2 999.3L357.6 997.3L357.9 995.3L358.3 993.4L358.6 991.4L359.0 989.4L359.3 987.4L359.7 985.5L360.0 983.5L360.4 981.5L360.7 979.5L361.1 977.6L361.4 975.6L361.8 973.6L362.1 971.6L362.5 969.7L362.8 967.7L363.2 965.7L363.6 963.7L363.9 961.8L364.3 959.8L364.7 957.8L365.0 955.8L365.4 953.9L365.8 951.9L366.1 949.9L366.5 948.0L366.9 946.0L367.3 944.0L367.6 942.0L368.0 940.1L368.4 938.1L368.8 936.1L369.2 934.2L369.6 932.2L370.0 930.2L370.4 928.3L370.8 926.3L371.2 924.4L371.6 922.4L372.0 920.4L372.4 918.5L372.8 916.5L373.2 914.5L373.6 912.6L374.0 910.6L374.4 908.7L374.9 906.7L375.3 904.7L375.7 902.8L376.1 900.8L376.6 898.9L377.0 896.9L377.4 895.0L377.9 893.0L378.3 891.1L378.7 889.1L379.2 887.2L379.6 885.2L380.1 883.3L380.5 881.3L381.0 879.4L381.4 877.4L381.9 875.5L382.4 873.5L382.8 871.6L383.3 869.6L383.7 867.7L384.2 865.7L384.7 863.8L385.2 861.9L385.6 859.9L386.1 858.0L386.6 856.0L387.1 854.1L387.6 852.1L388.1 850.2L388.6 848.3L389.1 846.3L389.6 844.4L390.1 842.5L390.6 840.5L391.1 838.6L391.6 836.7L392.1 834.7L392.6 832.8L393.1 830.9L393.6 828.9L394.2 827.0L394.7 825.1L395.2 823.1L395.8 821.2L396.3 819.3L396.8 817.4L397.4 815.4L397.9 813.5L398.4 811.6L399.0 809.7L399.5 807.8L400.1 805.8L400.7 803.9L401.2 802.0L401.8 800.1L402.3 798.2L402.9 796.2L403.5 794.3L404.1 792.4L404.6 790.5L405.2 788.6L405.8 786.7L406.4 784.8L407.0 782.8L407.6 780.9L408.2 779.0L408.8 777.1L409.4 775.2L410.0 773.3L410.6 771.4L411.2 769.5L411.8 767.6L412.4 765.7L413.0 763.8L413.7 761.9L414.3 760.0L414.9 758.1L415.6 756.2L416.2 754.3L416.8 752.4L417.5 750.5L418.1 748.6L418.8 746.7L419.4 744.8L420.1 742.9L420.7 741.0L421.4 739.1L422.1 737.2L422.7 735.3L423.4 733.5L424.1 731.6L424.8 729.7L425.5 727.8L426.1 725.9L426.8 724.0L427.5 722.1L428.2 720.3L428.9 718.4L429.6 716.5L430.3 714.6L431.1 712.8L431.8 710.9L432.5 709.0L433.2 707.1L433.9 705.3L434.7 703.4L435.4 701.5L436.1 699.6L436.9 697.8L437.6 695.9L438.4 694.1L439.1 692.2L439.9 690.3L440.6 688.5L441.4 686.6L442.2 684.8L442.9 682.9L443.7 681.1L444.5 679.2L445.3 677.4L446.1 675.5L446.9 673.7L447.7 671.8L448.5 670.0L449.3 668.2L450.1 666.3L450.9 664.5L451.7 662.7L452.6 660.8L453.4 659.0L454.2 657.2L455.1 655.4L455.9 653.5L456.7 651.7L457.6 649.9L458.5 648.1L459.3 646.3L460.2 644.5L461.0 642.7L461.9 640.9L462.8 639.1L463.7 637.3L464.6 635.5L465.5 633.7L466.4 631.9L467.3 630.1L468.2 628.3L469.1 626.5L470.0 624.7L470.9 623.0L471.9 621.2L472.8 619.4L473.7 617.6L474.7 615.9L475.6 614.1L476.6 612.4L477.5 610.6L478.5 608.9L479.5 607.1L480.5 605.4L481.4 603.6L482.4 601.9L483.4 600.1L484.4 598.4L485.4 596.7L486.4 594.9L487.4 593.2L488.5 591.5L489.5 589.8L490.5 588.1L491.5 586.4L492.6 584.7L493.6 583.0L494.7 581.3L495.7 579.6L496.8 577.9L497.9 576.2L499.0 574.5L500.0 572.8L501.1 571.1L502.2 569.5L503.3 567.8L504.4 566.1L505.5 564.5L506.6 562.8L507.8 561.2L508.9 559.5L510.0 557.9L511.2 556.2L512.3 554.6L513.5 553.0L514.6 551.3L515.8 549.7L517.0 548.1L518.2 546.5L519.3 544.9L520.5 543.3L521.7 541.7L522.9 540.1L524.1 538.5L525.4 536.9L526.6 535.3L527.8 533.7L529.1 532.2L530.3 530.6L531.6 529.0L532.8 527.5L534.1 525.9L535.3 524.4L536.6 522.8L537.9 521.3L539.2 519.7L540.5 518.2L541.8 516.7L543.1 515.2L544.4 513.7L545.8 512.2L547.1 510.7L548.4 509.2L549.8 507.7L551.2 506.2L552.5 504.8L553.9 503.3L555.3 501.9L556.7 500.5L558.1 499.0L559.6 497.6L561.0 496.2L562.4 494.9L563.9 493.5L565.4 492.2L566.9 490.8L568.4 489.5L569.9 488.2L571.4 486.9L572.9 485.6L574.5 484.4L576.0 483.1L577.6 481.9L579.2 480.7L580.8 479.5L582.4 478.4L584.1 477.2L585.7 476.1L587.4 475.0L589.1 473.9L590.8 472.9L592.5 471.8L594.2 470.7L595.9 469.7L597.6 468.7L599.3 467.7L601.1 466.6L602.8 465.6L604.5 464.6L606.3 463.6L608.0 462.5L609.8 461.5L611.5 460.5L613.2 459.4L614.9 458.4L616.6 457.3L618.3 456.3L620.0 455.2L621.7 454.1L623.4 452.9L625.0 451.8L626.6 450.6L628.2 449.4L629.7 448.1L631.2 446.9L632.7 445.6L634.2 444.2L635.6 442.8L637.0 441.4L638.3 440.0L639.6 438.5L640.8 436.9L642.0 435.3L643.2 433.7L644.3 432.0L645.4 430.3L646.4 428.6L647.4 426.8L648.4 425.1L649.4 423.3L650.4 421.5L651.3 419.7L652.3 417.9L653.2 416.1L654.1 414.3L655.1 412.5L656.0 410.7L656.9 408.9L657.8 407.2L658.8 405.4L659.7 403.6L660.7 401.9L661.6 400.1L662.6 398.4L663.6 396.6L664.6 394.9L665.6 393.2L666.6 391.5L667.7 389.8L668.7 388.2L669.8 386.5L670.9 384.9L672.1 383.2L673.3 381.6L674.5 380.0L675.7 378.4L676.9 376.8L678.1 375.2L679.4 373.7L680.6 372.1L681.9 370.5L683.1 368.9L684.3 367.3L685.6 365.7L686.8 364.2L688.0 362.6L689.3 361.0L690.5 359.4L691.8 357.9L693.1 356.3L694.4 354.8L695.7 353.3L697.0 351.8L698.4 350.3L699.8 348.9L701.2 347.5L702.6 346.1L704.1 344.7L705.6 343.4L707.1 342.1L708.7 340.8L710.3 339.5L711.9 338.3L713.6 337.2L715.3 336.1L717.0 335.0L718.7 334.0L720.5 333.0L722.3 332.1L724.1 331.2L725.9 330.4L727.8 329.6L729.6 328.9L731.5 328.2L733.4 327.7L735.3 327.1L737.2 326.7L739.2 326.3L741.1 326.0L743.0 325.7L745.0 325.6L747.0 325.5L748.9 325.5L750.9 325.5L752.8 325.7L754.8 325.9L756.8 326.2L758.7 326.5L760.7 326.9L762.7 327.4L764.6 327.9L766.6 328.5L768.5 329.1L770.4 329.8L772.3 330.5L774.2 331.3L776.1 332.1L778.0 332.9L779.9 333.8L781.7 334.7L783.5 335.6L785.3 336.6L787.1 337.5L788.9 338.5L790.6 339.5L792.4 340.6L794.1 341.6L795.8 342.7L797.4 343.8L799.1 344.9L800.7 346.0L802.4 347.1L804.0 348.3L805.6 349.4L807.2 350.6L808.7 351.8L810.3 353.0L811.8 354.3L813.3 355.5L814.9 356.8L816.4 358.1L817.9 359.3L819.3 360.6L820.8 362.0L822.3 363.3L823.7 364.6L825.2 366.0L826.6 367.4L828.1 368.8L829.5 370.1L830.9 371.6L832.3 373.0L833.7 374.4L835.1 375.8L836.5 377.3L837.9 378.7L839.3 380.2L840.7 381.6L842.1 383.1L843.5 384.6L844.9 386.0L846.3 387.5L847.7 388.9L849.1 390.4L850.5 391.8L851.9 393.3L853.3 394.7L854.8 396.1L856.2 397.6L857.6 399.0L859.0 400.4L860.4 401.8L861.9 403.2L863.3 404.7L864.7 406.1L866.1 407.5L867.4 409.0L868.8 410.4L870.2 411.9L871.5 413.3L872.9 414.8L874.2 416.3L875.5 417.8L876.8 419.3L878.1 420.8L879.4 422.3L880.7 423.8L882.0 425.4L883.2 426.9L884.5 428.5L885.7 430.0L886.9 431.6L888.1 433.2L889.3 434.8L890.5 436.3L891.7 437.9L892.9 439.5L894.1 441.2L895.2 442.8L896.4 444.4L897.5 446.0L898.7 447.7L899.8 449.3L900.9 451.0L902.1 452.6L903.2 454.3L904.3 455.9L905.4 457.6L906.5 459.3L907.5 461.0L908.6 462.6L909.7 464.3L910.8 466.0L911.8 467.7L912.9 469.4L914.0 471.1L915.0 472.8L916.1 474.5L917.1 476.2L918.1 478.0L919.2 479.7L920.2 481.4L921.3 483.1L922.3 484.8L923.3 486.6L924.3 488.3L925.3 490.0L926.4 491.7L927.4 493.5L928.4 495.2L929.4 496.9L930.4 498.7L931.4 500.4L932.4 502.1L933.5 503.9L934.5 505.6L935.5 507.4L936.5 509.1L937.5 510.8L938.5 512.6L939.5 514.3L940.5 516.0L941.5 517.8L942.5 519.5L943.5 521.3L944.5 523.0L945.5 524.7L946.5 526.5L947.5 528.2L948.5 529.9L949.5 531.7L950.5 533.4L951.5 535.2L952.5 536.9L953.5 538.6L954.5 540.4L955.5 542.1L956.5 543.9L957.5 545.6L958.5 547.3L959.5 549.1L960.5 550.8L961.5 552.6L962.5 554.3L963.5 556.0L964.5 557.8L965.5 559.5L966.5 561.3L967.5 563.0L968.5 564.7L969.4 566.5L970.4 568.2L971.4 569.9L972.4 571.7L973.4 573.4L974.4 575.2L975.4 576.9L976.4 578.6L977.4 580.4L978.4 582.1L979.4 583.8L980.4 585.6L981.4 587.3L982.4 589.1L983.4 590.8L984.4 592.5L985.4 594.3L986.4 596.0L987.4 597.7L988.4 599.5L989.4 601.2L990.4 602.9L991.4 604.7L992.4 606.4L993.4 608.1L994.4 609.9L995.4 611.6L996.4 613.3L997.4 615.0L998.4 616.8L999.5 618.5L1000.5 620.2L1001.5 622.0L1002.5 623.7L1003.5 625.4L1004.5 627.1L1005.5 628.9L1006.5 630.6L1007.5 632.3L1008.6 634.0L1009.6 635.7L1010.6 637.5L1011.6 639.2L1012.6 640.9L1013.7 642.6L1014.7 644.3L1015.7 646.1L1016.7 647.8L1017.8 649.5L1018.8 651.2L1019.8 652.9L1020.8 654.6L1021.9 656.4L1022.9 658.1L1023.9 659.8L1025.0 661.5L1026.0 663.2L1027.1 664.9L1028.1 666.6L1029.1 668.3L1030.2 670.0L1031.2 671.7L1032.3 673.4L1033.3 675.1L1034.4 676.8L1035.4 678.5L1036.5 680.2L1037.5 681.9L1038.6 683.6L1039.6 685.3L1040.7 687.0L1041.8 688.7L1042.8 690.4L1043.9 692.1L1044.9 693.8L1046.0 695.5L1047.1 697.2L1048.2 698.9L1049.2 700.6L1050.3 702.2L1051.4 703.9L1052.5 705.6L1053.5 707.3L1054.6 709.0L1055.7 710.7L1056.8 712.3L1057.9 714.0L1059.0 715.7L1060.1 717.4L1061.2 719.0L1062.3 720.7L1063.4 722.4L1064.5 724.0L1065.6 725.7L1066.7 727.4L1067.8 729.0L1068.9 730.7L1070.0 732.4L1071.1 734.0L1072.3 735.7L1073.4 737.3L1074.5 739.0L1075.6 740.7L1076.8 742.3L1077.9 744.0L1079.0 745.6L1080.2 747.3L1081.3 748.9L1082.5 750.6L1083.6 752.2L1084.7 753.8L1085.9 755.5L1087.1 757.1L1088.2 758.8L1089.4 760.4L1090.5 762.0L1091.7 763.7L1092.9 765.3L1094.0 766.9L1095.2 768.5L1096.4 770.2L1097.5 771.8L1098.7 773.4L1099.9 775.0L1101.1 776.7L1102.3 778.3L1103.5 779.9L1104.6 781.5L1105.8 783.1L1107.0 784.7L1108.2 786.3L1109.4 787.9L1110.6 789.5L1111.8 791.1L1113.0 792.7L1114.3 794.3L1115.5 795.9L1116.7 797.5L1117.9 799.1L1119.1 800.7L1120.4 802.3L1121.6 803.9L1122.8 805.5L1124.0 807.0L1125.3 808.6L1126.5 810.2L1127.8 811.8L1129.0 813.3L1130.2 814.9L1131.5 816.5L1132.7 818.0L1134.0 819.6L1135.3 821.2L1136.5 822.7L1137.8 824.3L1139.0 825.8L1140.3 827.4L1141.6 828.9L1142.8 830.5L1144.1 832.0L1145.4 833.6L1146.7 835.1L1148.0 836.7L1149.2 838.2L1150.5 839.7L1151.8 841.3L1153.1 842.8L1154.4 844.3L1155.7 845.9L1157.0 847.4L1158.3 848.9L1159.6 850.4L1160.9 851.9L1162.3 853.4L1163.6 855.0L1164.9 856.5L1166.2 858.0L1167.5 859.5L1168.9 861.0L1170.2 862.5L1171.5 864.0L1172.9 865.5L1174.2 867.0L1175.5 868.4L1176.9 869.9L1178.2 871.4L1179.6 872.9L1180.9 874.4L1182.3 875.8L1183.7 877.3L1185.0 878.8L1186.4 880.2L1187.7 881.7L1189.1 883.2L1190.5 884.6L1191.9 886.1L1193.2 887.5L1194.6 889.0L1196.0 890.4L1197.4 891.9L1198.8 893.3L1200.2 894.8L1201.6 896.2L1203.0 897.6L1204.4 899.1L1205.8 900.5L1207.2 901.9L1208.6 903.3L1210.0 904.7L1211.4 906.2L1212.8 907.6L1214.3 909.0L1215.7 910.4L1217.1 911.8L1218.5 913.2L1220.0 914.6L1221.4 916.0L1222.9 917.4L1224.3 918.8L1225.7 920.1L1227.2 921.5L1228.6 922.9L1230.1 924.3L1231.6 925.6L1233.0 927.0L1234.5 928.4L1235.9 929.7L1237.4 931.1L1238.9 932.5L1240.4 933.8L1241.8 935.2L1243.3 936.5L1244.8 937.9L1246.3 939.2L1247.8 940.5L1249.3 941.9L1250.8 943.2L1252.3 944.5L1253.8 945.8L1255.3 947.2L1256.8 948.5L1258.3 949.8L1259.8 951.1L1261.3 952.4L1262.9 953.7L1264.4 955.0L1265.9 956.3L1267.4 957.6L1269.0 958.9L1270.5 960.2L1272.1 961.4L1273.6 962.7L1275.1 964.0L1276.7 965.3L1278.2 966.5L1279.8 967.8L1281.4 969.1L1282.9 970.3L1284.5 971.6L1286.0 972.8L1287.6 974.1L1289.2 975.3L1290.8 976.5L1292.3 977.8L1293.9 979.0L1295.5 980.2L1297.1 981.4L1298.7 982.7L1300.3 983.9L1301.9 985.1L1303.5 986.3L1305.1 987.5L1306.7 988.7L1308.3 989.9L1309.9 991.1L1311.5 992.2L1313.1 993.4L1314.8 994.6L1316.4 995.8L1318.0 996.9L1319.7 998.1L1321.3 999.2L1322.9 1000.4L1324.6 1001.5L1326.2 1002.7L1327.8 1003.8L1329.5 1005.0L1331.2 1006.1L1332.8 1007.2L1334.5 1008.3L1336.1 1009.4L1337.8 1010.6L1339.5 1011.7L1341.1 1012.8L1342.8 1013.9L1344.5 1015.0L1346.2 1016.0L1347.8 1017.1L1349.5 1018.2L1351.2 1019.3L1352.9 1020.3L1354.6 1021.4L1356.3 1022.5L1358.0 1023.5L1359.7 1024.6L1361.4 1025.6L1363.1 1026.7L1364.8 1027.7L1366.5 1028.7L1368.3 1029.7L1370.0 1030.8L1371.7 1031.8L1373.4 1032.8L1375.2 1033.8L1376.9 1034.8L1378.6 1035.8L1380.4 1036.8L1382.1 1037.7L1383.9 1038.7L1385.6 1039.7L1387.4 1040.7L1389.1 1041.6L1390.9 1042.6L1392.6 1043.5L1394.4 1044.5L1396.2 1045.4L1397.9 1046.3L1399.7 1047.3L1401.5 1048.2L1403.2 1049.1L1405.0 1050.0L1406.8 1050.9L1408.6 1051.8L1410.4 1052.7L1412.2 1053.6L1414.0 1054.5L1415.8 1055.3L1417.6 1056.2L1419.4 1057.1L1421.2 1057.9L1423.0 1058.8L1424.8 1059.6L1426.6 1060.5L1428.4 1061.3L1430.3 1062.1L1432.1 1063.0L1433.9 1063.8L1435.8 1064.6L1437.6 1065.4L1439.4 1066.2L1441.3 1067.0L1443.1 1067.8L1445.0 1068.5L1446.8 1069.3L1448.7 1070.1L1450.5 1070.9L1452.4 1071.6L1454.2 1072.4L1456.1 1073.1L1457.9 1073.9L1459.8 1074.6L1461.7 1075.3L1463.5 1076.1L1465.4 1076.8L1467.3 1077.5L1469.2 1078.3L1471.0 1079.0L1472.9 1079.7L1474.8 1080.4L1476.6 1081.1L1478.5 1081.8L1480.4 1082.5L1482.3 1083.3L1484.2 1084.0L1486.0 1084.7L1487.9 1085.4L1489.8 1086.1L1491.7 1086.8L1493.6 1087.5L1495.4 1088.2L1497.3 1088.9L1499.2 1089.6L1501.1 1090.3L1502.9 1091.0L1504.8 1091.7L1506.7 1092.4L1508.6 1093.1L1510.4 1093.8L1512.3 1094.5L1514.2 1095.3L1516.0 1096.0L1517.9 1096.7L1519.8 1097.4L1521.6 1098.1L1523.5 1098.9L1525.4 1099.6L1527.2 1100.3L1529.1 1101.1L1530.9 1101.8L1532.8 1102.5L1534.6 1103.3L1536.5 1104.0L1538.3 1104.7L1540.2 1105.5L1542.1 1106.2L1543.9 1106.9L1545.8 1107.6L1547.6 1108.3L1549.5 1109.1L1551.4 1109.8L1553.2 1110.5L1555.1 1111.2L1557.0 1111.8L1558.8 1112.5L1560.7 1113.2L1562.6 1113.8L1564.5 1114.5L1566.4 1115.1L1568.3 1115.8L1570.2 1116.4L1572.1 1117.0L1574.0 1117.6L1575.9 1118.2L1577.8 1118.8L1579.7 1119.3L1581.6 1119.9L1583.6 1120.5L1585.5 1121.0L1587.4 1121.6L1589.3 1122.1L1591.3 1122.7L1593.2 1123.2L1595.1 1123.7L1597.1 1124.2L1599.0 1124.7L1601.0 1125.2L1602.9 1125.7L1604.8 1126.2L1606.8 1126.7L1608.7 1127.2L1610.7 1127.7L1612.6 1128.1L1614.6 1128.6L1616.6 1129.0L1618.5 1129.5L1620.5 1130.0L1622.4 1130.4L1624.4 1130.8L1626.4 1131.3L1628.3 1131.7L1630.3 1132.1L1632.2 1132.6L1634.2 1133.0L1636.2 1133.4L1638.1 1133.8L1640.1 1134.2L1642.1 1134.7L1644.0 1135.1L1646.0 1135.5L1648.0 1135.9L1649.9 1136.3L1651.9 1136.7L1653.9 1137.1L1655.8 1137.5L1657.8 1137.9L1659.8 1138.3L1661.7 1138.7L1663.7 1139.0L1665.7 1139.4L1667.6 1139.8L1669.6 1140.2L1671.6 1140.6L1673.5 1140.9L1675.5 1141.3L1677.5 1141.7L1679.4 1142.0L1681.4 1142.4L1683.4 1142.8L1685.3 1143.1L1687.3 1143.5L1689.3 1143.8L1691.2 1144.2L1693.2 1144.5L1695.2 1144.9L1697.2 1145.2L1699.1 1145.6L1701.1 1145.9L1703.1 1146.2L1705.0 1146.6L1707.0 1146.9L1709.0 1147.2L1711.0 1147.6L1712.9 1147.9L1714.9 1148.2L1716.9 1148.5L1718.9 1148.8L1720.8 1149.2L1722.8 1149.5L1724.8 1149.8L1726.8 1150.1L1728.7 1150.4L1730.7 1150.7L1732.7 1151.0L1734.7 1151.3L1736.6 1151.6L1738.6 1151.9L1740.6 1152.2L1742.6 1152.5L1744.6 1152.8L1746.5 1153.0L1748.5 1153.3L1750.5 1153.6L1752.5 1153.9L1754.5 1154.1L1756.4 1154.4L1758.4 1154.7L1760.4 1155.0L1762.4 1155.2L1764.4 1155.5L1766.3 1155.7L1768.3 1156.0L1770.3 1156.3L1772.3 1156.5L1774.3 1156.8L1776.3 1157.0L1778.2 1157.3L1780.2 1157.5L1782.2 1157.7L1784.2 1158.0L1786.2 1158.2L1788.2 1158.5L1790.2 1158.7L1792.2 1158.9L1794.1 1159.2L1796.1 1159.4L1798.1 1159.6L1800.1 1159.8L1802.1 1160.0L1804.1 1160.3L1806.1 1160.5L1808.1 1160.7L1810.1 1160.9L1812.1 1161.1L1814.1 1161.3L1816.0 1161.5L1818.0 1161.7L1820.0 1161.9L1822.0 1162.1L1824.0 1162.3L1826.0 1162.5L1828.0 1162.7L1830.0 1162.9L1832.0 1163.1L1834.0 1163.2L1836.0 1163.4L1838.0 1163.6L1840.0 1163.8L1842.0 1163.9L1844.0 1164.1L1846.0 1164.3L1848.0 1164.5L1850.0 1164.6L1852.0 1164.8L1854.0 1164.9L1856.0 1165.1L1858.0 1165.3" fill="none" stroke="#2a70d0" stroke-width="5.0" stroke-linecap="round" stroke-linejoin="round"/>
<path d="M272.3 995.0L272.6 997.0L272.8 999.0L273.1 1001.0L273.3 1002.9L273.6 1004.9L273.8 1006.9L274.0 1008.9L274.3 1010.9L274.5 1012.9L274.8 1014.9L275.0 1016.8L275.3 1018.8L275.6 1020.8L275.8 1022.8L276.1 1024.8L276.3 1026.8L276.6 1028.8L276.9 1030.8L277.2 1032.8L277.4 1034.7L277.7 1036.7L278.0 1038.7L278.3 1040.7L278.6 1042.7L278.9 1044.7L279.3 1046.6L279.6 1048.6L279.9 1050.6L280.2 1052.6L280.6 1054.5L280.9 1056.5L281.3 1058.5L281.7 1060.4L282.0 1062.4L282.4 1064.3L282.8 1066.3L283.2 1068.2L283.7 1070.2L284.1 1072.1L284.5 1074.0L285.0 1076.0L285.4 1077.9L285.9 1079.8L286.4 1081.7L286.9 1083.6L287.4 1085.6L287.9 1087.5L288.5 1089.3L289.0 1091.2L289.6 1093.1L290.2 1095.0L290.8 1096.9L291.5 1098.7L292.2 1100.6L293.0 1102.4L293.7 1104.3L294.6 1106.1L295.5 1108.0L296.4 1109.8L297.4 1111.6L298.5 1113.4L299.6 1115.2L300.8 1117.0L302.1 1118.8L303.4 1120.6L304.8 1122.3L306.3 1123.9L307.9 1125.2L309.4 1126.3L311.0 1127.0L312.7 1127.2L314.3 1127.1L316.0 1126.5L317.6 1125.5L319.2 1124.3L320.8 1122.9L322.3 1121.3L323.7 1119.6L325.1 1117.9L326.4 1116.2L327.5 1114.4L328.6 1112.6L329.7 1110.9L330.6 1109.0L331.5 1107.2L332.3 1105.3L333.1 1103.5L333.8 1101.6L334.4 1099.7L335.0 1097.8L335.6 1095.9L336.1 1093.9L336.6 1092.0L337.0 1090.0L337.5 1088.1L337.8 1086.1L338.2 1084.1L338.6 1082.1L338.9 1080.2L339.2 1078.2L339.6 1076.2L339.9 1074.2L340.2 1072.2L340.5 1070.2L340.8 1068.3L341.1 1066.3L341.4 1064.3L341.8 1062.3L342.1 1060.3L342.4 1058.4L342.7 1056.4L343.0 1054.4L343.3 1052.4L343.6 1050.4L343.9 1048.5L344.3 1046.5L344.6 1044.5L344.9 1042.5L345.2 1040.6L345.5 1038.6L345.8 1036.6L346.1 1034.6L346.5 1032.7L346.8 1030.7L347.1 1028.7L347.4 1026.7L347.7 1024.8L348.0 1022.8L348.4 1020.8L348.7 1018.9L349.0 1016.9L349.3 1014.9L349.7 1012.9L350.0 1011.0L350.3 1009.0L350.6 1007.0L351.0 1005.1L351.3 1003.1L351.6 1001.1L352.0 999.2L352.3 997.2L352.7 995.2L353.0 993.3L353.4 991.3L353.7 989.3L354.0 987.4L354.4 985.4L354.7 983.4L355.1 981.5L355.5 979.5L355.8 977.5L356.2 975.6L356.5 973.6L356.9 971.6L357.3 969.7L357.6 967.7L358.0 965.7L358.4 963.8L358.7 961.8L359.1 959.8L359.5 957.9L359.9 955.9L360.3 953.9L360.6 952.0L361.0 950.0L361.4 948.1L361.8 946.1L362.2 944.1L362.6 942.2L363.0 940.2L363.4 938.3L363.8 936.3L364.2 934.3L364.6 932.4L365.0 930.4L365.4 928.5L365.8 926.5L366.2 924.5L366.6 922.6L367.0 920.6L367.4 918.7L367.8 916.7L368.2 914.7L368.7 912.8L369.1 910.8L369.5 908.9L369.9 906.9L370.3 905.0L370.8 903.0L371.2 901.1L371.6 899.1L372.1 897.1L372.5 895.2L372.9 893.2L373.4 891.3L373.8 889.3L374.3 887.4L374.7 885.4L375.1 883.5L375.6 881.5L376.0 879.6L376.5 877.6L376.9 875.7L377.4 873.7L377.9 871.8L378.3 869.8L378.8 867.9L379.2 865.9L379.7 864.0L380.2 862.0L380.6 860.1L381.1 858.1L381.6 856.2L382.0 854.2L382.5 852.3L383.0 850.3L383.5 848.4L384.0 846.5L384.4 844.5L384.9 842.6L385.4 840.6L385.9 838.7L386.4 836.7L386.9 834.8L387.4 832.9L387.9 830.9L388.4 829.0L388.9 827.0L389.4 825.1L389.9 823.2L390.4 821.2L390.9 819.3L391.4 817.3L391.9 815.4L392.4 813.5L392.9 811.5L393.4 809.6L393.9 807.7L394.5 805.7L395.0 803.8L395.5 801.9L396.0 799.9L396.5 798.0L397.1 796.1L397.6 794.1L398.1 792.2L398.7 790.3L399.2 788.3L399.7 786.4L400.3 784.5L400.8 782.5L401.4 780.6L401.9 778.7L402.4 776.8L403.0 774.8L403.5 772.9L404.1 771.0L404.6 769.0L405.2 767.1L405.7 765.2L406.3 763.3L406.9 761.3L407.4 759.4L408.0 757.5L408.6 755.6L409.1 753.7L409.7 751.7L410.3 749.8L410.8 747.9L411.4 746.0L412.0 744.1L412.6 742.1L413.2 740.2L413.7 738.3L414.3 736.4L414.9 734.5L415.5 732.6L416.1 730.7L416.7 728.8L417.3 726.8L417.9 724.9L418.5 723.0L419.1 721.1L419.7 719.2L420.3 717.3L420.9 715.4L421.5 713.5L422.2 711.6L422.8 709.7L423.4 707.8L424.0 705.9L424.6 704.0L425.3 702.1L425.9 700.2L426.5 698.3L427.2 696.4L427.8 694.5L428.5 692.6L429.1 690.7L429.8 688.8L430.4 686.9L431.1 685.0L431.7 683.1L432.4 681.2L433.0 679.4L433.7 677.5L434.4 675.6L435.0 673.7L435.7 671.8L436.4 669.9L437.1 668.1L437.8 666.2L438.4 664.3L439.1 662.4L439.8 660.5L440.5 658.7L441.2 656.8L441.9 654.9L442.6 653.1L443.3 651.2L444.0 649.3L444.8 647.4L445.5 645.6L446.2 643.7L446.9 641.9L447.6 640.0L448.4 638.1L449.1 636.3L449.8 634.4L450.6 632.6L451.3 630.7L452.1 628.8L452.8 627.0L453.6 625.1L454.3 623.3L455.1 621.4L455.9 619.6L456.6 617.8L457.4 615.9L458.2 614.1L459.0 612.2L459.7 610.4L460.5 608.5L461.3 606.7L462.1 604.9L462.9 603.0L463.7 601.2L464.5 599.4L465.3 597.6L466.1 595.7L467.0 593.9L467.8 592.1L468.6 590.3L469.4 588.4L470.3 586.6L471.1 584.8L471.9 583.0L472.8 581.2L473.6 579.4L474.5 577.5L475.3 575.7L476.2 573.9L477.1 572.1L477.9 570.3L478.8 568.5L479.7 566.7L480.6 564.9L481.4 563.1L482.3 561.3L483.2 559.5L484.1 557.7L485.0 555.9L485.9 554.2L486.8 552.4L487.7 550.6L488.7 548.8L489.6 547.0L490.5 545.3L491.5 543.5L492.4 541.7L493.3 539.9L494.3 538.2L495.2 536.4L496.2 534.6L497.1 532.9L498.1 531.1L499.1 529.4L500.1 527.6L501.0 525.9L502.0 524.1L503.0 522.4L504.0 520.6L505.0 518.9L506.0 517.2L507.1 515.4L508.1 513.7L509.1 512.0L510.2 510.3L511.2 508.6L512.2 506.9L513.3 505.2L514.4 503.5L515.4 501.8L516.5 500.1L517.6 498.4L518.7 496.7L519.8 495.0L520.9 493.4L522.0 491.7L523.1 490.0L524.2 488.4L525.4 486.7L526.5 485.1L527.7 483.5L528.8 481.8L530.0 480.2L531.1 478.6L532.3 477.0L533.5 475.4L534.7 473.8L535.9 472.2L537.1 470.6L538.3 469.0L539.6 467.4L540.8 465.9L542.1 464.3L543.3 462.7L544.6 461.2L545.8 459.7L547.1 458.1L548.4 456.6L549.7 455.1L551.0 453.6L552.3 452.1L553.7 450.6L555.0 449.1L556.4 447.6L557.7 446.2L559.1 444.7L560.4 443.2L561.8 441.8L563.2 440.4L564.6 438.9L566.1 437.5L567.5 436.1L568.9 434.7L570.4 433.4L571.9 432.0L573.4 430.7L574.9 429.4L576.4 428.1L577.9 426.8L579.5 425.5L581.0 424.3L582.6 423.1L584.2 421.9L585.8 420.7L587.5 419.6L589.1 418.5L590.8 417.4L592.5 416.3L594.2 415.3L596.0 414.3L597.8 413.3L599.6 412.4L601.4 411.5L603.2 410.6L605.0 409.8L606.9 408.9L608.7 408.1L610.6 407.3L612.5 406.4L614.3 405.6L616.2 404.8L618.0 404.0L619.9 403.2L621.7 402.3L623.5 401.4L625.3 400.6L627.1 399.7L628.8 398.7L630.5 397.7L632.2 396.7L633.8 395.7L635.4 394.6L637.0 393.5L638.5 392.3L640.0 391.0L641.4 389.7L642.8 388.3L644.1 386.9L645.4 385.5L646.6 384.0L647.9 382.4L649.0 380.8L650.2 379.2L651.3 377.5L652.5 375.9L653.6 374.2L654.6 372.5L655.7 370.7L656.8 369.0L657.9 367.3L658.9 365.5L660.0 363.8L661.1 362.0L662.2 360.3L663.3 358.6L664.4 356.9L665.5 355.2L666.7 353.5L667.8 351.8L669.0 350.2L670.2 348.6L671.4 346.9L672.6 345.4L673.9 343.8L675.1 342.2L676.4 340.7L677.7 339.2L679.0 337.7L680.4 336.2L681.7 334.8L683.1 333.4L684.5 332.0L686.0 330.6L687.4 329.2L688.9 327.9L690.4 326.6L691.9 325.4L693.5 324.2L695.1 323.0L696.7 321.8L698.3 320.7L700.0 319.5L701.7 318.5L703.4 317.4L705.1 316.4L706.9 315.5L708.7 314.5L710.6 313.7L712.4 312.8L714.3 312.0L716.2 311.3L718.1 310.6L720.0 309.9L721.9 309.3L723.9 308.8L725.8 308.3L727.8 307.9L729.8 307.6L731.7 307.3L733.7 307.1L735.7 307.0L737.6 306.9L739.6 306.9L741.5 307.0L743.5 307.2L745.4 307.5L747.3 307.9L749.2 308.3L751.1 308.8L753.0 309.5L754.8 310.2L756.7 310.9L758.5 311.7L760.3 312.6L762.1 313.6L763.8 314.5L765.6 315.6L767.4 316.6L769.1 317.7L770.8 318.8L772.5 319.9L774.2 321.1L775.9 322.2L777.6 323.4L779.2 324.5L780.9 325.7L782.5 326.9L784.2 328.1L785.8 329.3L787.4 330.5L789.0 331.7L790.6 333.0L792.2 334.2L793.7 335.4L795.3 336.7L796.8 338.0L798.4 339.3L799.9 340.6L801.4 341.9L802.9 343.2L804.4 344.5L805.9 345.8L807.4 347.1L808.8 348.5L810.3 349.8L811.8 351.2L813.2 352.6L814.6 353.9L816.1 355.3L817.5 356.7L818.9 358.1L820.3 359.5L821.7 360.9L823.1 362.4L824.5 363.8L825.9 365.2L827.2 366.7L828.6 368.1L830.0 369.6L831.3 371.0L832.7 372.5L834.0 374.0L835.3 375.5L836.7 377.0L838.0 378.5L839.3 380.0L840.6 381.5L841.9 383.0L843.2 384.5L844.5 386.0L845.8 387.6L847.1 389.1L848.4 390.6L849.7 392.2L850.9 393.7L852.2 395.3L853.5 396.8L854.8 398.4L856.0 399.9L857.3 401.5L858.6 403.1L859.9 404.6L861.1 406.2L862.4 407.7L863.7 409.2L865.0 410.8L866.3 412.3L867.6 413.8L868.9 415.4L870.2 416.9L871.6 418.4L872.9 419.9L874.2 421.4L875.6 422.8L877.0 424.3L878.3 425.8L879.7 427.2L881.1 428.6L882.5 430.0L883.9 431.4L885.4 432.9L886.8 434.3L888.2 435.7L889.6 437.1L891.0 438.5L892.4 439.9L893.7 441.4L895.1 442.9L896.4 444.3L897.7 445.9L899.0 447.4L900.3 448.9L901.5 450.5L902.8 452.1L904.0 453.7L905.3 455.2L906.5 456.8L907.8 458.4L909.1 459.9L910.4 461.4L911.7 462.9L913.0 464.4L914.4 465.9L915.8 467.3L917.2 468.7L918.7 470.1L920.2 471.5L921.6 472.8L923.1 474.2L924.6 475.5L926.2 476.9L927.7 478.2L929.2 479.5L930.7 480.8L932.3 482.1L933.8 483.4L935.3 484.8L936.8 486.1L938.3 487.4L939.8 488.8L941.3 490.1L942.7 491.5L944.2 492.9L945.6 494.3L947.0 495.7L948.3 497.1L949.7 498.6L951.0 500.1L952.2 501.6L953.5 503.1L954.7 504.7L955.9 506.3L957.0 507.9L958.2 509.5L959.3 511.2L960.3 512.9L961.4 514.5L962.5 516.3L963.5 518.0L964.5 519.7L965.5 521.4L966.5 523.2L967.5 524.9L968.5 526.7L969.4 528.5L970.4 530.2L971.4 532.0L972.3 533.8L973.3 535.6L974.3 537.3L975.3 539.1L976.3 540.8L977.3 542.6L978.3 544.3L979.4 546.0L980.4 547.8L981.5 549.5L982.5 551.2L983.6 552.8L984.7 554.5L985.8 556.2L987.0 557.8L988.1 559.5L989.3 561.1L990.4 562.8L991.6 564.4L992.7 566.0L993.9 567.7L995.1 569.3L996.3 570.9L997.5 572.5L998.7 574.1L999.9 575.7L1001.1 577.3L1002.3 578.9L1003.5 580.5L1004.7 582.1L1005.9 583.7L1007.1 585.3L1008.3 586.9L1009.5 588.5L1010.7 590.1L1011.9 591.7L1013.1 593.3L1014.3 594.9L1015.5 596.5L1016.7 598.1L1017.9 599.7L1019.1 601.3L1020.2 602.9L1021.4 604.6L1022.6 606.2L1023.8 607.8L1024.9 609.4L1026.1 611.1L1027.3 612.7L1028.4 614.3L1029.6 616.0L1030.7 617.6L1031.9 619.2L1033.0 620.9L1034.2 622.5L1035.3 624.1L1036.5 625.8L1037.6 627.4L1038.8 629.1L1039.9 630.7L1041.0 632.4L1042.2 634.0L1043.3 635.7L1044.4 637.3L1045.6 639.0L1046.7 640.6L1047.8 642.3L1049.0 643.9L1050.1 645.6L1051.2 647.2L1052.3 648.9L1053.5 650.5L1054.6 652.2L1055.7 653.9L1056.8 655.5L1057.9 657.2L1059.1 658.8L1060.2 660.5L1061.3 662.2L1062.4 663.8L1063.5 665.5L1064.6 667.1L1065.7 668.8L1066.9 670.5L1068.0 672.1L1069.1 673.8L1070.2 675.5L1071.3 677.1L1072.4 678.8L1073.5 680.5L1074.6 682.1L1075.7 683.8L1076.9 685.5L1078.0 687.1L1079.1 688.8L1080.2 690.5L1081.3 692.1L1082.4 693.8L1083.5 695.5L1084.6 697.1L1085.8 698.8L1086.9 700.5L1088.0 702.1L1089.1 703.8L1090.2 705.4L1091.3 707.1L1092.5 708.8L1093.6 710.4L1094.7 712.1L1095.8 713.7L1096.9 715.4L1098.1 717.1L1099.2 718.7L1100.3 720.4L1101.4 722.0L1102.6 723.7L1103.7 725.3L1104.8 727.0L1106.0 728.6L1107.1 730.3L1108.2 731.9L1109.4 733.6L1110.5 735.2L1111.7 736.9L1112.8 738.5L1114.0 740.1L1115.1 741.8L1116.3 743.4L1117.4 745.0L1118.6 746.7L1119.7 748.3L1120.9 749.9L1122.0 751.6L1123.2 753.2L1124.4 754.8L1125.6 756.4L1126.7 758.0L1127.9 759.7L1129.1 761.3L1130.3 762.9L1131.5 764.5L1132.6 766.1L1133.8 767.7L1135.0 769.3L1136.2 770.9L1137.4 772.5L1138.6 774.1L1139.8 775.7L1141.1 777.3L1142.3 778.9L1143.5 780.5L1144.7 782.0L1145.9 783.6L1147.2 785.2L1148.4 786.8L1149.6 788.3L1150.9 789.9L1152.1 791.5L1153.4 793.0L1154.6 794.6L1155.9 796.2L1157.1 797.7L1158.4 799.3L1159.6 800.9L1160.9 802.4L1162.1 804.0L1163.4 805.5L1164.7 807.1L1165.9 808.6L1167.2 810.2L1168.5 811.7L1169.7 813.3L1171.0 814.8L1172.2 816.4L1173.5 817.9L1174.8 819.5L1176.0 821.1L1177.3 822.6L1178.6 824.2L1179.8 825.7L1181.1 827.3L1182.4 828.8L1183.6 830.4L1184.9 831.9L1186.1 833.5L1187.4 835.1L1188.6 836.6L1189.9 838.2L1191.1 839.8L1192.4 841.3L1193.6 842.9L1194.9 844.5L1196.1 846.0L1197.4 847.6L1198.6 849.2L1199.8 850.8L1201.1 852.3L1202.3 853.9L1203.5 855.5L1204.8 857.1L1206.0 858.7L1207.2 860.2L1208.5 861.8L1209.7 863.4L1210.9 865.0L1212.2 866.6L1213.4 868.1L1214.7 869.7L1215.9 871.3L1217.1 872.9L1218.4 874.4L1219.6 876.0L1220.8 877.6L1222.1 879.1L1223.3 880.7L1224.6 882.3L1225.8 883.8L1227.1 885.4L1228.3 887.0L1229.6 888.5L1230.9 890.1L1232.1 891.6L1233.4 893.2L1234.7 894.7L1235.9 896.3L1237.2 897.8L1238.5 899.3L1239.8 900.9L1241.1 902.4L1242.4 903.9L1243.7 905.4L1245.0 906.9L1246.3 908.4L1247.6 909.9L1248.9 911.4L1250.2 912.9L1251.6 914.4L1252.9 915.9L1254.2 917.4L1255.6 918.9L1256.9 920.3L1258.3 921.8L1259.7 923.2L1261.0 924.7L1262.4 926.1L1263.8 927.6L1265.2 929.0L1266.6 930.4L1268.0 931.8L1269.4 933.2L1270.9 934.6L1272.3 936.0L1273.7 937.4L1275.2 938.8L1276.6 940.2L1278.1 941.6L1279.5 942.9L1281.0 944.3L1282.4 945.6L1283.9 947.0L1285.4 948.3L1286.9 949.7L1288.4 951.0L1289.9 952.4L1291.4 953.7L1292.9 955.0L1294.4 956.3L1295.9 957.6L1297.4 958.9L1298.9 960.2L1300.5 961.5L1302.0 962.8L1303.5 964.1L1305.1 965.4L1306.6 966.6L1308.2 967.9L1309.7 969.2L1311.3 970.4L1312.9 971.7L1314.4 973.0L1316.0 974.2L1317.6 975.4L1319.2 976.7L1320.7 977.9L1322.3 979.2L1323.9 980.4L1325.5 981.6L1327.1 982.8L1328.7 984.0L1330.3 985.2L1331.9 986.5L1333.5 987.7L1335.1 988.9L1336.8 990.1L1338.4 991.2L1340.0 992.4L1341.6 993.6L1343.2 994.8L1344.9 996.0L1346.5 997.2L1348.1 998.3L1349.8 999.5L1351.4 1000.7L1353.0 1001.8L1354.7 1003.0L1356.3 1004.1L1357.9 1005.3L1359.6 1006.4L1361.2 1007.6L1362.9 1008.7L1364.5 1009.9L1366.2 1011.0L1367.8 1012.1L1369.5 1013.3L1371.1 1014.4L1372.8 1015.5L1374.4 1016.7L1376.1 1017.8L1377.7 1018.9L1379.4 1020.0L1381.1 1021.1L1382.7 1022.2L1384.4 1023.4L1386.1 1024.5L1387.7 1025.6L1389.4 1026.7L1391.1 1027.7L1392.7 1028.8L1394.4 1029.9L1396.1 1031.0L1397.8 1032.1L1399.4 1033.2L1401.1 1034.2L1402.8 1035.3L1404.5 1036.4L1406.2 1037.4L1407.9 1038.5L1409.6 1039.5L1411.3 1040.6L1413.0 1041.6L1414.7 1042.6L1416.4 1043.7L1418.1 1044.7L1419.8 1045.7L1421.5 1046.7L1423.2 1047.7L1424.9 1048.7L1426.7 1049.7L1428.4 1050.7L1430.1 1051.7L1431.9 1052.7L1433.6 1053.7L1435.3 1054.6L1437.1 1055.6L1438.8 1056.6L1440.6 1057.5L1442.4 1058.5L1444.1 1059.4L1445.9 1060.3L1447.7 1061.3L1449.4 1062.2L1451.2 1063.1L1453.0 1064.0L1454.8 1064.9L1456.6 1065.8L1458.4 1066.7L1460.1 1067.6L1461.9 1068.5L1463.7 1069.4L1465.5 1070.3L1467.4 1071.1L1469.2 1072.0L1471.0 1072.9L1472.8 1073.7L1474.6 1074.6L1476.4 1075.4L1478.2 1076.3L1480.1 1077.1L1481.9 1077.9L1483.7 1078.8L1485.5 1079.6L1487.4 1080.4L1489.2 1081.2L1491.0 1082.1L1492.9 1082.9L1494.7 1083.7L1496.5 1084.5L1498.4 1085.3L1500.2 1086.1L1502.1 1086.9L1503.9 1087.7L1505.7 1088.5L1507.6 1089.3L1509.4 1090.1L1511.3 1090.8L1513.1 1091.6L1515.0 1092.4L1516.8 1093.2L1518.7 1094.0L1520.5 1094.7L1522.3 1095.5L1524.2 1096.3L1526.0 1097.0L1527.9 1097.8L1529.7 1098.6L1531.6 1099.3L1533.4 1100.1L1535.3 1100.8L1537.1 1101.6L1539.0 1102.3L1540.8 1103.1L1542.7 1103.8L1544.5 1104.6L1546.4 1105.3L1548.2 1106.0L1550.1 1106.7L1551.9 1107.4L1553.8 1108.2L1555.7 1108.9L1557.5 1109.6L1559.4 1110.2L1561.3 1110.9L1563.2 1111.6L1565.0 1112.3L1566.9 1112.9L1568.8 1113.6L1570.7 1114.2L1572.6 1114.9L1574.5 1115.5L1576.4 1116.2L1578.3 1116.8L1580.2 1117.4L1582.1 1118.0L1584.0 1118.6L1585.9 1119.2L1587.8 1119.8L1589.7 1120.4L1591.6 1121.0L1593.6 1121.6L1595.5 1122.2L1597.4 1122.7L1599.3 1123.3L1601.2 1123.9L1603.2 1124.5L1605.1 1125.0L1607.0 1125.6L1608.9 1126.1L1610.9 1126.7L1612.8 1127.2L1614.7 1127.8L1616.7 1128.3L1618.6 1128.9L1620.5 1129.4L1622.5 1129.9L1624.4 1130.5L1626.3 1131.0L1628.3 1131.6L1630.2 1132.1L1632.1 1132.6L1634.1 1133.2L1636.0 1133.7L1637.9 1134.2L1639.9 1134.8L1641.8 1135.3L1643.7 1135.8L1645.7 1136.4L1647.6 1136.9L1649.5 1137.4L1651.4 1138.0L1653.4 1138.5L1655.3 1139.0L1657.2 1139.6L1659.2 1140.1L1661.1 1140.6L1663.0 1141.1L1664.9 1141.7L1666.9 1142.2L1668.8 1142.7L1670.7 1143.2L1672.7 1143.7L1674.6 1144.2L1676.5 1144.7L1678.5 1145.2L1680.4 1145.7L1682.3 1146.2L1684.3 1146.7L1686.2 1147.2L1688.1 1147.7L1690.1 1148.2L1692.0 1148.6L1693.9 1149.1L1695.9 1149.6L1697.8 1150.0L1699.8 1150.5L1701.7 1150.9L1703.7 1151.3L1705.6 1151.8L1707.5 1152.2L1709.5 1152.6L1711.4 1153.0L1713.4 1153.4L1715.4 1153.8L1717.3 1154.2L1719.3 1154.6L1721.2 1154.9L1723.2 1155.3L1725.2 1155.6L1727.1 1156.0L1729.1 1156.3L1731.1 1156.6L1733.0 1157.0L1735.0 1157.3L1737.0 1157.6L1739.0 1157.8L1741.0 1158.1L1742.9 1158.4L1744.9 1158.7L1746.9 1158.9L1748.9 1159.2L1750.9 1159.4L1752.9 1159.7L1754.9 1159.9L1756.9 1160.2L1758.9 1160.4L1760.9 1160.6L1762.9 1160.8L1764.8 1161.1L1766.8 1161.3L1768.8 1161.5L1770.8 1161.7L1772.8 1161.9L1774.8 1162.1L1776.8 1162.3L1778.8 1162.5L1780.8 1162.7L1782.8 1163.0L1784.8 1163.2L1786.8 1163.4L1788.8 1163.6L1790.8 1163.8L1792.8 1164.0L1794.8 1164.2L1796.8 1164.5L1798.8 1164.7L1800.8 1164.9L1802.8 1165.1L1804.8 1165.4L1806.8 1165.6L1808.8 1165.9L1810.8 1166.1L1812.8 1166.4L1814.8 1166.6L1816.8 1166.9L1818.8 1167.2L1820.7 1167.5L1822.7 1167.8L1824.7 1168.1L1826.7 1168.4L1828.7 1168.7L1830.6 1169.0L1832.6 1169.4L1834.6 1169.7L1836.5 1170.1L1838.5 1170.5L1840.5 1170.8L1842.4 1171.2L1844.4 1171.6L1846.3 1172.0L1848.3 1172.5L1850.2 1172.9L1852.2 1173.4L1854.1 1173.8L1856.1 1174.3L1858.0 1174.8" fill="none" stroke="#43a36d" stroke-width="5.0" stroke-linecap="round" stroke-linejoin="round"/>
<path d="M272.2 1009.6L272.5 1011.5L272.8 1013.5L273.1 1015.5L273.4 1017.4L273.7 1019.4L273.9 1021.4L274.2 1023.4L274.4 1025.3L274.6 1027.3L274.9 1029.3L275.1 1031.3L275.3 1033.3L275.5 1035.3L275.7 1037.3L275.9 1039.3L276.1 1041.3L276.3 1043.3L276.6 1045.3L276.8 1047.3L277.0 1049.3L277.2 1051.3L277.5 1053.3L277.7 1055.3L278.0 1057.3L278.2 1059.3L278.5 1061.3L278.8 1063.3L279.1 1065.3L279.4 1067.2L279.7 1069.2L280.1 1071.2L280.5 1073.1L280.8 1075.1L281.3 1077.1L281.7 1079.0L282.1 1080.9L282.6 1082.9L283.1 1084.8L283.6 1086.7L284.2 1088.6L284.8 1090.5L285.4 1092.4L286.0 1094.2L286.7 1096.1L287.4 1098.0L288.2 1099.8L288.9 1101.6L289.7 1103.5L290.6 1105.3L291.5 1107.1L292.4 1108.9L293.4 1110.6L294.4 1112.4L295.5 1114.1L296.6 1115.8L297.9 1117.4L299.3 1118.9L300.8 1120.4L302.5 1121.7L304.2 1122.8L306.1 1123.7L307.9 1124.2L309.7 1124.4L311.4 1124.0L313.1 1123.3L314.7 1122.3L316.3 1121.0L317.8 1119.6L319.2 1118.0L320.7 1116.3L322.0 1114.5L323.3 1112.7L324.5 1110.8L325.7 1108.9L326.7 1107.0L327.6 1105.1L328.4 1103.1L329.1 1101.2L329.7 1099.3L330.3 1097.3L330.7 1095.4L331.2 1093.5L331.5 1091.5L331.9 1089.6L332.3 1087.7L332.6 1085.7L333.0 1083.8L333.3 1081.8L333.7 1079.9L334.0 1077.9L334.4 1076.0L334.7 1074.1L335.1 1072.1L335.4 1070.2L335.8 1068.2L336.1 1066.3L336.5 1064.3L336.8 1062.4L337.2 1060.4L337.5 1058.4L337.9 1056.5L338.2 1054.5L338.6 1052.6L338.9 1050.6L339.3 1048.7L339.6 1046.7L340.0 1044.7L340.3 1042.8L340.7 1040.8L341.0 1038.8L341.3 1036.9L341.7 1034.9L342.0 1033.0L342.4 1031.0L342.7 1029.0L343.1 1027.1L343.4 1025.1L343.8 1023.1L344.1 1021.1L344.5 1019.2L344.8 1017.2L345.1 1015.2L345.5 1013.3L345.8 1011.3L346.2 1009.3L346.5 1007.4L346.9 1005.4L347.2 1003.4L347.6 1001.4L347.9 999.5L348.3 997.5L348.6 995.5L349.0 993.5L349.3 991.6L349.7 989.6L350.0 987.6L350.4 985.6L350.7 983.7L351.1 981.7L351.5 979.7L351.8 977.7L352.2 975.8L352.5 973.8L352.9 971.8L353.3 969.8L353.6 967.9L354.0 965.9L354.3 963.9L354.7 961.9L355.1 960.0L355.4 958.0L355.8 956.0L356.2 954.0L356.6 952.1L356.9 950.1L357.3 948.1L357.7 946.1L358.1 944.2L358.4 942.2L358.8 940.2L359.2 938.3L359.6 936.3L360.0 934.3L360.3 932.3L360.7 930.4L361.1 928.4L361.5 926.4L361.9 924.5L362.3 922.5L362.7 920.5L363.1 918.6L363.5 916.6L363.9 914.6L364.3 912.7L364.7 910.7L365.1 908.7L365.5 906.8L365.9 904.8L366.3 902.9L366.7 900.9L367.2 898.9L367.6 897.0L368.0 895.0L368.4 893.1L368.8 891.1L369.3 889.1L369.7 887.2L370.1 885.2L370.6 883.3L371.0 881.3L371.4 879.4L371.9 877.4L372.3 875.5L372.8 873.5L373.2 871.6L373.6 869.6L374.1 867.7L374.5 865.7L375.0 863.8L375.4 861.8L375.9 859.9L376.4 857.9L376.8 856.0L377.3 854.0L377.7 852.1L378.2 850.1L378.7 848.2L379.1 846.3L379.6 844.3L380.1 842.4L380.6 840.4L381.0 838.5L381.5 836.6L382.0 834.6L382.5 832.7L383.0 830.7L383.5 828.8L383.9 826.9L384.4 824.9L384.9 823.0L385.4 821.1L385.9 819.1L386.4 817.2L386.9 815.3L387.4 813.3L387.9 811.4L388.4 809.5L388.9 807.5L389.5 805.6L390.0 803.7L390.5 801.7L391.0 799.8L391.5 797.9L392.0 796.0L392.6 794.0L393.1 792.1L393.6 790.2L394.1 788.3L394.7 786.3L395.2 784.4L395.7 782.5L396.3 780.6L396.8 778.6L397.4 776.7L397.9 774.8L398.4 772.9L399.0 770.9L399.5 769.0L400.1 767.1L400.6 765.2L401.2 763.3L401.8 761.3L402.3 759.4L402.9 757.5L403.4 755.6L404.0 753.7L404.6 751.8L405.1 749.8L405.7 747.9L406.3 746.0L406.9 744.1L407.4 742.2L408.0 740.3L408.6 738.4L409.2 736.4L409.8 734.5L410.4 732.6L410.9 730.7L411.5 728.8L412.1 726.9L412.7 725.0L413.3 723.1L413.9 721.2L414.5 719.3L415.1 717.3L415.7 715.4L416.3 713.5L416.9 711.6L417.6 709.7L418.2 707.8L418.8 705.9L419.4 704.0L420.0 702.1L420.6 700.2L421.3 698.3L421.9 696.4L422.5 694.5L423.1 692.6L423.8 690.7L424.4 688.8L425.0 686.9L425.7 685.0L426.3 683.1L427.0 681.2L427.6 679.3L428.3 677.4L428.9 675.5L429.6 673.6L430.2 671.7L430.9 669.8L431.5 667.9L432.2 666.0L432.8 664.1L433.5 662.2L434.2 660.3L434.8 658.4L435.5 656.5L436.2 654.6L436.9 652.7L437.6 650.8L438.2 648.9L438.9 647.0L439.6 645.2L440.3 643.3L441.0 641.4L441.7 639.5L442.4 637.6L443.1 635.7L443.8 633.9L444.5 632.0L445.2 630.1L446.0 628.2L446.7 626.4L447.4 624.5L448.1 622.6L448.9 620.7L449.6 618.9L450.3 617.0L451.1 615.1L451.8 613.3L452.6 611.4L453.3 609.6L454.1 607.7L454.8 605.8L455.6 604.0L456.4 602.1L457.2 600.3L457.9 598.4L458.7 596.6L459.5 594.8L460.3 592.9L461.1 591.1L461.9 589.2L462.7 587.4L463.5 585.6L464.3 583.7L465.1 581.9L465.9 580.1L466.8 578.2L467.6 576.4L468.4 574.6L469.3 572.8L470.1 571.0L470.9 569.2L471.8 567.4L472.7 565.5L473.5 563.7L474.4 561.9L475.3 560.1L476.1 558.3L477.0 556.5L477.9 554.8L478.8 553.0L479.7 551.2L480.6 549.4L481.5 547.6L482.4 545.8L483.3 544.1L484.2 542.3L485.2 540.5L486.1 538.8L487.0 537.0L488.0 535.3L488.9 533.5L489.9 531.7L490.9 530.0L491.8 528.3L492.8 526.5L493.8 524.8L494.8 523.0L495.8 521.3L496.8 519.6L497.8 517.9L498.8 516.1L499.8 514.4L500.8 512.7L501.8 511.0L502.9 509.3L503.9 507.6L505.0 505.9L506.0 504.2L507.1 502.5L508.1 500.8L509.2 499.1L510.3 497.5L511.4 495.8L512.5 494.1L513.6 492.5L514.7 490.8L515.8 489.1L516.9 487.5L518.0 485.8L519.1 484.2L520.3 482.6L521.4 480.9L522.6 479.3L523.7 477.7L524.9 476.0L526.1 474.4L527.3 472.8L528.5 471.2L529.7 469.6L530.9 468.0L532.1 466.4L533.3 464.8L534.5 463.2L535.7 461.6L537.0 460.1L538.2 458.5L539.5 456.9L540.7 455.4L542.0 453.8L543.3 452.3L544.6 450.7L545.9 449.2L547.2 447.7L548.5 446.2L549.9 444.7L551.2 443.2L552.6 441.7L553.9 440.2L555.3 438.8L556.7 437.3L558.1 435.9L559.5 434.5L560.9 433.1L562.4 431.8L563.9 430.4L565.3 429.1L566.8 427.7L568.3 426.4L569.9 425.2L571.4 423.9L572.9 422.7L574.5 421.5L576.1 420.3L577.7 419.1L579.4 418.0L581.0 416.9L582.7 415.8L584.3 414.7L586.1 413.7L587.8 412.7L589.5 411.7L591.3 410.7L593.1 409.8L594.9 408.9L596.7 408.1L598.6 407.2L600.4 406.4L602.3 405.7L604.2 404.9L606.1 404.1L608.0 403.3L609.8 402.5L611.7 401.7L613.5 400.9L615.3 400.0L617.0 399.1L618.7 398.1L620.4 397.0L622.0 395.9L623.5 394.8L625.0 393.5L626.4 392.1L627.7 390.7L629.0 389.2L630.2 387.6L631.4 386.0L632.5 384.3L633.6 382.5L634.6 380.7L635.6 378.9L636.6 377.1L637.6 375.3L638.5 373.4L639.5 371.5L640.5 369.7L641.4 367.9L642.4 366.1L643.4 364.3L644.4 362.5L645.4 360.8L646.5 359.2L647.6 357.5L648.7 356.0L649.9 354.4L651.0 352.9L652.2 351.4L653.4 349.9L654.7 348.4L655.9 347.0L657.2 345.5L658.5 344.1L659.8 342.6L661.1 341.2L662.4 339.7L663.7 338.3L665.0 336.8L666.4 335.3L667.7 333.8L669.1 332.3L670.5 330.7L671.8 329.2L673.2 327.7L674.6 326.2L676.0 324.7L677.5 323.2L678.9 321.7L680.4 320.2L681.8 318.7L683.3 317.3L684.8 315.8L686.3 314.4L687.8 313.1L689.4 311.7L690.9 310.4L692.5 309.1L694.1 307.9L695.7 306.7L697.4 305.5L699.0 304.4L700.7 303.3L702.4 302.3L704.1 301.4L705.8 300.5L707.6 299.6L709.4 298.8L711.2 298.1L713.0 297.4L714.8 296.9L716.7 296.4L718.6 295.9L720.5 295.5L722.5 295.3L724.4 295.0L726.4 294.9L728.4 294.8L730.4 294.8L732.4 294.9L734.4 295.0L736.4 295.2L738.4 295.5L740.4 295.8L742.3 296.2L744.3 296.6L746.2 297.1L748.2 297.7L750.1 298.3L752.0 299.0L753.8 299.8L755.7 300.6L757.4 301.4L759.2 302.3L761.0 303.3L762.7 304.3L764.4 305.3L766.0 306.4L767.7 307.5L769.3 308.7L770.9 309.9L772.5 311.1L774.1 312.3L775.7 313.6L777.3 314.8L778.8 316.1L780.4 317.4L781.9 318.7L783.4 320.0L785.0 321.4L786.5 322.7L788.1 324.0L789.6 325.3L791.1 326.6L792.7 327.9L794.2 329.2L795.8 330.5L797.4 331.8L798.9 333.0L800.5 334.3L802.0 335.6L803.6 336.8L805.2 338.1L806.7 339.3L808.3 340.6L809.9 341.8L811.4 343.1L813.0 344.3L814.5 345.6L816.1 346.8L817.7 348.1L819.2 349.3L820.8 350.6L822.3 351.8L823.8 353.1L825.4 354.4L826.9 355.6L828.4 356.9L829.9 358.2L831.4 359.5L832.9 360.8L834.4 362.2L835.9 363.5L837.3 364.8L838.8 366.2L840.2 367.5L841.7 368.9L843.1 370.3L844.5 371.7L845.9 373.1L847.3 374.5L848.7 376.0L850.0 377.4L851.4 378.9L852.7 380.4L854.0 381.9L855.4 383.4L856.7 384.9L858.0 386.4L859.3 388.0L860.6 389.5L861.9 391.1L863.1 392.6L864.4 394.2L865.7 395.7L867.0 397.3L868.2 398.9L869.5 400.4L870.8 402.0L872.0 403.6L873.3 405.2L874.5 406.7L875.8 408.3L877.1 409.8L878.3 411.4L879.6 413.0L880.9 414.5L882.2 416.1L883.4 417.6L884.7 419.2L886.0 420.7L887.3 422.2L888.6 423.8L889.8 425.3L891.1 426.9L892.4 428.4L893.7 429.9L894.9 431.5L896.2 433.0L897.5 434.6L898.7 436.1L900.0 437.7L901.2 439.2L902.5 440.8L903.7 442.3L905.0 443.9L906.2 445.4L907.4 447.0L908.7 448.6L909.9 450.2L911.1 451.7L912.3 453.3L913.5 454.9L914.7 456.5L915.9 458.1L917.0 459.7L918.2 461.4L919.3 463.0L920.5 464.6L921.6 466.3L922.7 467.9L923.9 469.6L925.0 471.2L926.1 472.9L927.2 474.5L928.3 476.2L929.4 477.9L930.5 479.6L931.5 481.3L932.6 483.0L933.7 484.6L934.8 486.3L935.8 488.0L936.9 489.7L937.9 491.4L939.0 493.1L940.0 494.9L941.1 496.6L942.1 498.3L943.2 500.0L944.2 501.7L945.3 503.4L946.3 505.1L947.4 506.8L948.4 508.5L949.5 510.2L950.5 512.0L951.5 513.7L952.6 515.4L953.6 517.1L954.7 518.8L955.7 520.5L956.7 522.2L957.8 523.9L958.8 525.7L959.8 527.4L960.9 529.1L961.9 530.8L962.9 532.5L964.0 534.2L965.0 536.0L966.0 537.7L967.1 539.4L968.1 541.1L969.1 542.8L970.2 544.6L971.2 546.3L972.2 548.0L973.2 549.7L974.3 551.4L975.3 553.1L976.3 554.9L977.3 556.6L978.4 558.3L979.4 560.0L980.4 561.7L981.5 563.5L982.5 565.2L983.5 566.9L984.5 568.6L985.6 570.3L986.6 572.1L987.6 573.8L988.6 575.5L989.7 577.2L990.7 578.9L991.7 580.7L992.7 582.4L993.7 584.1L994.8 585.8L995.8 587.6L996.8 589.3L997.8 591.0L998.9 592.7L999.9 594.4L1000.9 596.1L1001.9 597.9L1003.0 599.6L1004.0 601.3L1005.0 603.0L1006.0 604.7L1007.1 606.5L1008.1 608.2L1009.1 609.9L1010.1 611.6L1011.2 613.3L1012.2 615.1L1013.2 616.8L1014.3 618.5L1015.3 620.2L1016.3 621.9L1017.3 623.6L1018.4 625.4L1019.4 627.1L1020.4 628.8L1021.5 630.5L1022.5 632.2L1023.5 633.9L1024.6 635.6L1025.6 637.3L1026.6 639.1L1027.7 640.8L1028.7 642.5L1029.7 644.2L1030.8 645.9L1031.8 647.6L1032.9 649.3L1033.9 651.0L1034.9 652.7L1036.0 654.5L1037.0 656.2L1038.1 657.9L1039.1 659.6L1040.1 661.3L1041.2 663.0L1042.2 664.7L1043.3 666.4L1044.3 668.1L1045.4 669.8L1046.4 671.5L1047.5 673.2L1048.5 674.9L1049.6 676.6L1050.6 678.3L1051.7 680.0L1052.8 681.7L1053.8 683.4L1054.9 685.1L1055.9 686.8L1057.0 688.5L1058.1 690.2L1059.1 691.9L1060.2 693.6L1061.3 695.3L1062.3 696.9L1063.4 698.6L1064.5 700.3L1065.5 702.0L1066.6 703.7L1067.7 705.4L1068.8 707.1L1069.8 708.8L1070.9 710.4L1072.0 712.1L1073.1 713.8L1074.2 715.5L1075.2 717.2L1076.3 718.9L1077.4 720.5L1078.5 722.2L1079.6 723.9L1080.7 725.6L1081.8 727.2L1082.9 728.9L1084.0 730.6L1085.1 732.3L1086.2 733.9L1087.3 735.6L1088.4 737.3L1089.5 738.9L1090.6 740.6L1091.7 742.3L1092.8 743.9L1093.9 745.6L1095.1 747.2L1096.2 748.9L1097.3 750.6L1098.4 752.2L1099.5 753.9L1100.7 755.5L1101.8 757.2L1102.9 758.8L1104.0 760.5L1105.2 762.1L1106.3 763.8L1107.4 765.4L1108.6 767.1L1109.7 768.7L1110.8 770.4L1112.0 772.0L1113.1 773.7L1114.3 775.3L1115.4 777.0L1116.6 778.6L1117.7 780.2L1118.9 781.9L1120.0 783.5L1121.2 785.2L1122.3 786.8L1123.5 788.4L1124.6 790.1L1125.8 791.7L1127.0 793.3L1128.1 794.9L1129.3 796.6L1130.5 798.2L1131.6 799.8L1132.8 801.5L1134.0 803.1L1135.1 804.7L1136.3 806.3L1137.5 807.9L1138.7 809.6L1139.8 811.2L1141.0 812.8L1142.2 814.4L1143.4 816.0L1144.6 817.7L1145.7 819.3L1146.9 820.9L1148.1 822.5L1149.3 824.1L1150.5 825.7L1151.7 827.3L1152.9 828.9L1154.1 830.5L1155.3 832.1L1156.5 833.7L1157.7 835.3L1158.9 837.0L1160.1 838.6L1161.3 840.2L1162.5 841.8L1163.7 843.4L1164.9 844.9L1166.1 846.5L1167.3 848.1L1168.5 849.7L1169.7 851.3L1171.0 852.9L1172.2 854.5L1173.4 856.1L1174.6 857.6L1175.9 859.2L1177.1 860.8L1178.3 862.4L1179.6 863.9L1180.8 865.5L1182.1 867.0L1183.3 868.6L1184.6 870.1L1185.9 871.7L1187.2 873.2L1188.4 874.7L1189.7 876.3L1191.0 877.8L1192.3 879.3L1193.6 880.8L1194.9 882.3L1196.3 883.8L1197.6 885.3L1198.9 886.8L1200.3 888.3L1201.6 889.7L1203.0 891.2L1204.3 892.6L1205.7 894.1L1207.1 895.5L1208.5 897.0L1209.9 898.4L1211.3 899.8L1212.7 901.2L1214.2 902.6L1215.6 904.0L1217.0 905.4L1218.5 906.7L1220.0 908.1L1221.4 909.5L1222.9 910.8L1224.4 912.2L1225.8 913.5L1227.3 914.9L1228.8 916.3L1230.3 917.6L1231.7 919.0L1233.2 920.3L1234.7 921.7L1236.2 923.0L1237.6 924.4L1239.1 925.7L1240.6 927.1L1242.1 928.5L1243.5 929.8L1245.0 931.2L1246.5 932.5L1248.0 933.9L1249.5 935.2L1250.9 936.6L1252.4 937.9L1253.9 939.3L1255.4 940.6L1256.9 942.0L1258.3 943.3L1259.8 944.7L1261.3 946.0L1262.8 947.4L1264.3 948.7L1265.8 950.1L1267.3 951.4L1268.8 952.7L1270.3 954.1L1271.8 955.4L1273.3 956.7L1274.8 958.1L1276.3 959.4L1277.8 960.7L1279.3 962.0L1280.8 963.3L1282.3 964.7L1283.8 966.0L1285.3 967.3L1286.8 968.6L1288.3 969.9L1289.9 971.2L1291.4 972.5L1292.9 973.8L1294.5 975.0L1296.0 976.3L1297.5 977.6L1299.1 978.9L1300.6 980.2L1302.2 981.4L1303.7 982.7L1305.3 983.9L1306.8 985.2L1308.4 986.4L1309.9 987.7L1311.5 988.9L1313.1 990.2L1314.6 991.4L1316.2 992.6L1317.8 993.8L1319.4 995.0L1321.0 996.3L1322.6 997.5L1324.2 998.6L1325.8 999.8L1327.4 1001.0L1329.0 1002.2L1330.6 1003.4L1332.2 1004.5L1333.9 1005.7L1335.5 1006.9L1337.1 1008.0L1338.8 1009.1L1340.4 1010.3L1342.1 1011.4L1343.7 1012.5L1345.4 1013.6L1347.0 1014.7L1348.7 1015.8L1350.4 1016.9L1352.1 1018.0L1353.7 1019.1L1355.4 1020.2L1357.1 1021.3L1358.8 1022.3L1360.5 1023.4L1362.2 1024.5L1363.9 1025.5L1365.6 1026.6L1367.3 1027.6L1369.0 1028.6L1370.7 1029.7L1372.5 1030.7L1374.2 1031.7L1375.9 1032.7L1377.6 1033.8L1379.4 1034.8L1381.1 1035.8L1382.8 1036.8L1384.6 1037.8L1386.3 1038.8L1388.0 1039.8L1389.8 1040.7L1391.5 1041.7L1393.3 1042.7L1395.0 1043.7L1396.8 1044.7L1398.6 1045.6L1400.3 1046.6L1402.1 1047.6L1403.8 1048.5L1405.6 1049.5L1407.4 1050.4L1409.1 1051.4L1410.9 1052.3L1412.7 1053.3L1414.4 1054.2L1416.2 1055.1L1418.0 1056.1L1419.8 1057.0L1421.5 1057.9L1423.3 1058.9L1425.1 1059.8L1426.9 1060.7L1428.7 1061.6L1430.4 1062.5L1432.2 1063.5L1434.0 1064.4L1435.8 1065.3L1437.6 1066.2L1439.4 1067.1L1441.2 1068.0L1443.0 1068.9L1444.8 1069.7L1446.6 1070.6L1448.4 1071.5L1450.2 1072.4L1452.0 1073.3L1453.8 1074.1L1455.6 1075.0L1457.4 1075.9L1459.2 1076.7L1461.0 1077.6L1462.8 1078.4L1464.6 1079.3L1466.4 1080.1L1468.3 1081.0L1470.1 1081.8L1471.9 1082.6L1473.7 1083.5L1475.5 1084.3L1477.4 1085.1L1479.2 1086.0L1481.0 1086.8L1482.8 1087.6L1484.7 1088.4L1486.5 1089.2L1488.3 1090.0L1490.2 1090.8L1492.0 1091.6L1493.9 1092.4L1495.7 1093.2L1497.5 1093.9L1499.4 1094.7L1501.2 1095.5L1503.1 1096.3L1504.9 1097.0L1506.8 1097.8L1508.6 1098.6L1510.5 1099.3L1512.3 1100.1L1514.2 1100.8L1516.0 1101.5L1517.9 1102.3L1519.7 1103.0L1521.6 1103.7L1523.5 1104.5L1525.3 1105.2L1527.2 1105.9L1529.1 1106.6L1530.9 1107.3L1532.8 1108.0L1534.7 1108.7L1536.5 1109.4L1538.4 1110.1L1540.3 1110.8L1542.2 1111.5L1544.1 1112.1L1545.9 1112.8L1547.8 1113.5L1549.7 1114.1L1551.6 1114.8L1553.5 1115.5L1555.4 1116.1L1557.3 1116.7L1559.1 1117.4L1561.0 1118.0L1562.9 1118.6L1564.8 1119.3L1566.7 1119.9L1568.6 1120.5L1570.5 1121.1L1572.4 1121.7L1574.3 1122.3L1576.2 1122.9L1578.1 1123.5L1580.1 1124.1L1582.0 1124.7L1583.9 1125.3L1585.8 1125.8L1587.7 1126.4L1589.6 1127.0L1591.5 1127.5L1593.5 1128.1L1595.4 1128.6L1597.3 1129.2L1599.2 1129.7L1601.2 1130.2L1603.1 1130.8L1605.0 1131.3L1606.9 1131.8L1608.9 1132.3L1610.8 1132.8L1612.7 1133.3L1614.7 1133.8L1616.6 1134.3L1618.6 1134.8L1620.5 1135.3L1622.4 1135.8L1624.4 1136.2L1626.3 1136.7L1628.3 1137.2L1630.2 1137.6L1632.2 1138.1L1634.1 1138.5L1636.1 1139.0L1638.0 1139.4L1640.0 1139.8L1641.9 1140.3L1643.9 1140.7L1645.8 1141.1L1647.8 1141.6L1649.8 1142.0L1651.7 1142.4L1653.7 1142.8L1655.6 1143.2L1657.6 1143.6L1659.6 1144.0L1661.5 1144.4L1663.5 1144.8L1665.5 1145.2L1667.4 1145.5L1669.4 1145.9L1671.4 1146.3L1673.3 1146.7L1675.3 1147.0L1677.3 1147.4L1679.3 1147.7L1681.2 1148.1L1683.2 1148.5L1685.2 1148.8L1687.2 1149.1L1689.1 1149.5L1691.1 1149.8L1693.1 1150.2L1695.1 1150.5L1697.0 1150.8L1699.0 1151.1L1701.0 1151.5L1703.0 1151.8L1705.0 1152.1L1707.0 1152.4L1708.9 1152.7L1710.9 1153.0L1712.9 1153.3L1714.9 1153.6L1716.9 1153.9L1718.9 1154.2L1720.8 1154.5L1722.8 1154.8L1724.8 1155.1L1726.8 1155.4L1728.8 1155.7L1730.8 1156.0L1732.8 1156.2L1734.8 1156.5L1736.8 1156.8L1738.7 1157.1L1740.7 1157.3L1742.7 1157.6L1744.7 1157.9L1746.7 1158.1L1748.7 1158.4L1750.7 1158.6L1752.7 1158.9L1754.7 1159.2L1756.7 1159.4L1758.6 1159.7L1760.6 1159.9L1762.6 1160.2L1764.6 1160.4L1766.6 1160.6L1768.6 1160.9L1770.6 1161.1L1772.6 1161.4L1774.6 1161.6L1776.6 1161.8L1778.6 1162.1L1780.5 1162.3L1782.5 1162.5L1784.5 1162.7L1786.5 1163.0L1788.5 1163.2L1790.5 1163.4L1792.5 1163.6L1794.5 1163.9L1796.5 1164.1L1798.5 1164.3L1800.4 1164.5L1802.4 1164.7L1804.4 1165.0L1806.4 1165.2L1808.4 1165.4L1810.4 1165.6L1812.4 1165.8L1814.4 1166.0L1816.3 1166.2L1818.3 1166.5L1820.3 1166.7L1822.3 1166.9L1824.3 1167.1L1826.3 1167.3L1828.2 1167.5L1830.2 1167.7L1832.2 1167.9L1834.2 1168.1L1836.2 1168.3L1838.2 1168.5L1840.1 1168.7L1842.1 1168.9L1844.1 1169.1L1846.1 1169.3L1848.0 1169.5L1850.0 1169.7L1852.0 1169.9L1854.0 1170.1L1855.9 1170.4L1857.9 1170.6" fill="none" stroke="#a878d4" stroke-width="5.0" stroke-linecap="round" stroke-linejoin="round"/>
<line x1="1358" y1="132.6" x2="1509" y2="132.6" stroke="#555555" stroke-width="5.0" stroke-linecap="round"/>
<text x="1523.5" y="154.8" font-size="68.3">Control</text>
<line x1="1358" y1="215.7" x2="1509" y2="215.7" stroke="#d94a4c" stroke-width="5.0" stroke-linecap="round"/>
<text x="1523.5" y="237.9" font-size="68.3">N0</text>
<line x1="1358" y1="298.8" x2="1509" y2="298.8" stroke="#2a70d0" stroke-width="5.0" stroke-linecap="round"/>
<text x="1523.5" y="321.0" font-size="68.3">N1</text>
<line x1="1358" y1="381.9" x2="1509" y2="381.9" stroke="#43a36d" stroke-width="5.0" stroke-linecap="round"/>
<text x="1523.5" y="404.1" font-size="68.3">N2</text>
<line x1="1358" y1="465.0" x2="1509" y2="465.0" stroke="#a878d4" stroke-width="5.0" stroke-linecap="round"/>
<text x="1523.5" y="487.2" font-size="68.3">N3</text>
</g>
</svg>
</body></html>
